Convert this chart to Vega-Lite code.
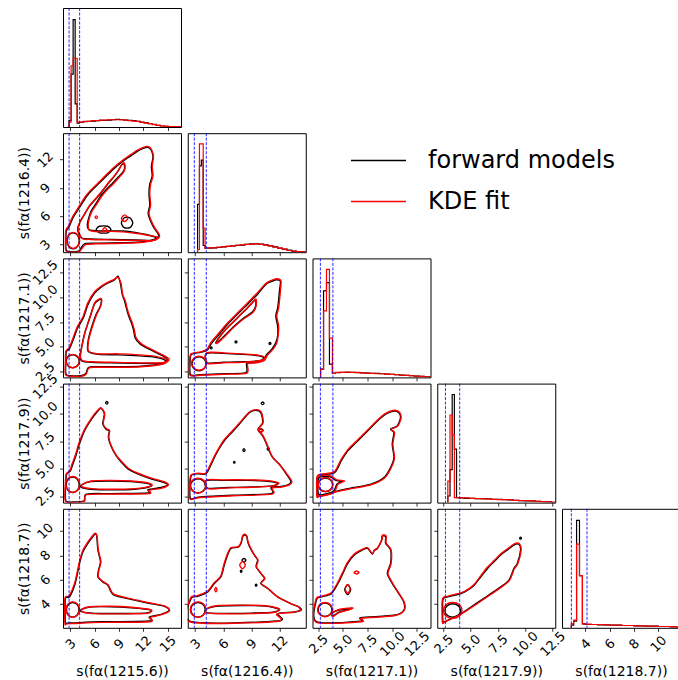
{
"$schema":"https://vega.github.io/schema/vega-lite/v6.json",
"background":"white",
"padding":{"left":16,"top":7,"right":0,"bottom":0},
"columns":5,
"spacing":{"row":6.2,"column":6.75},
"bounds":"flush",
"concat":[
{"width":118,"height":119,"encoding":{"x":{"field":"x","type":"quantitative","scale":{"domain":[2.1,16.65],"nice":false,"zero":false},"axis":{"values":[3,6,9,12,15],"labels":false,"title":null}}},
 "layer":[{"data":{"name":"h1"},"mark":{"type":"line","interpolate":"step-after","strokeWidth":1.2,"clip":true},"encoding":{"y":{"field":"y","type":"quantitative","scale":{"domain":[0,360],"nice":false,"zero":false},"axis":null},"color":{"field":"s","type":"nominal","scale":{"domain":["F","K"],"range":["#000000","#ff0000"]},"legend":{"title":null,"labelExpr":"datum.label == 'F' ? 'forward models' : 'KDE fit'"}},"order":{"value":null}}},
 {"data":{"values":[{"x":2.85},{"x":4.15}]},"mark":{"type":"rule","color":"#0000ff","strokeDash":[3,1.5],"strokeWidth":1,"opacity":0.85},"encoding":{}}]},
{"width":118,"height":119,"data":{"values":[{}]},"mark":{"type":"text","text":""},"view":{"stroke":null}},
{"width":118,"height":119,"data":{"values":[{}]},"mark":{"type":"text","text":""},"view":{"stroke":null}},
{"width":118,"height":119,"data":{"values":[{}]},"mark":{"type":"text","text":""},"view":{"stroke":null}},
{"width":118,"height":119,"data":{"values":[{}]},"mark":{"type":"text","text":""},"view":{"stroke":null}},

{"width":118,"height":119,"encoding":{"x":{"field":"x","type":"quantitative","scale":{"domain":[2.1,16.65],"nice":false,"zero":false},"axis":{"values":[3,6,9,12,15],"labels":false,"title":null}}},
 "layer":[{"data":{"name":"c21"},"mark":{"type":"line","interpolate":"cardinal-closed","tension":0.2,"strokeWidth":1.4,"clip":true},"encoding":{"y":{"field":"y","type":"quantitative","scale":{"domain":[2.2,14.8],"nice":false,"zero":false},"axis":{"values":[3,6,9,12],"title":"s(fα(1216.4))"}},"color":{"field":"s","type":"nominal","scale":{"domain":["F","K"],"range":["#000000","#ff0000"]},"legend":{"title":null,"labelExpr":"datum.label == 'F' ? 'forward models' : 'KDE fit'"}},"detail":{"field":"c"},"order":{"value":null}}},
 {"data":{"values":[{"x":2.85},{"x":4.15}]},"mark":{"type":"rule","color":"#0000ff","strokeDash":[3,1.5],"strokeWidth":1,"opacity":0.85},"encoding":{}}]},
{"width":118,"height":119,"encoding":{"x":{"field":"x","type":"quantitative","scale":{"domain":[2.2,14.8],"nice":false,"zero":false},"axis":{"values":[3,6,9,12],"labels":false,"title":null}}},
 "layer":[{"data":{"name":"h2"},"mark":{"type":"line","interpolate":"step-after","strokeWidth":1.2,"clip":true},"encoding":{"y":{"field":"y","type":"quantitative","scale":{"domain":[0,354],"nice":false,"zero":false},"axis":null},"color":{"field":"s","type":"nominal","scale":{"domain":["F","K"],"range":["#000000","#ff0000"]},"legend":{"title":null,"labelExpr":"datum.label == 'F' ? 'forward models' : 'KDE fit'"}},"order":{"value":null}}},
 {"data":{"values":[{"x":2.9},{"x":4.18}]},"mark":{"type":"rule","color":"#0000ff","strokeDash":[3,1.5],"strokeWidth":1,"opacity":0.85},"encoding":{}}]},
{"width":118,"height":119,"data":{"values":[{}]},"mark":{"type":"text","text":""},"view":{"stroke":null}},
{"width":118,"height":119,"data":{"values":[{}]},"mark":{"type":"text","text":""},"view":{"stroke":null}},
{"width":118,"height":119,"data":{"values":[{}]},"mark":{"type":"text","text":""},"view":{"stroke":null}},

{"width":118,"height":119,"encoding":{"x":{"field":"x","type":"quantitative","scale":{"domain":[2.1,16.65],"nice":false,"zero":false},"axis":{"values":[3,6,9,12,15],"labels":false,"title":null}}},
 "layer":[{"data":{"name":"c31"},"mark":{"type":"line","interpolate":"cardinal-closed","tension":0.2,"strokeWidth":1.4,"clip":true},"encoding":{"y":{"field":"y","type":"quantitative","scale":{"domain":[1.93,13.9],"nice":false,"zero":false},"axis":{"values":[2.5,5,7.5,10,12.5],"format":".1f","title":"s(fα(1217.1))"}},"color":{"field":"s","type":"nominal","scale":{"domain":["F","K"],"range":["#000000","#ff0000"]},"legend":{"title":null,"labelExpr":"datum.label == 'F' ? 'forward models' : 'KDE fit'"}},"detail":{"field":"c"},"order":{"value":null}}},
 {"data":{"values":[{"x":2.85},{"x":4.15}]},"mark":{"type":"rule","color":"#0000ff","strokeDash":[3,1.5],"strokeWidth":1,"opacity":0.85},"encoding":{}}]},
{"width":118,"height":119,"encoding":{"x":{"field":"x","type":"quantitative","scale":{"domain":[2.2,14.8],"nice":false,"zero":false},"axis":{"values":[3,6,9,12],"labels":false,"title":null}}},
 "layer":[{"data":{"name":"c32"},"mark":{"type":"line","interpolate":"cardinal-closed","tension":0.2,"strokeWidth":1.4,"clip":true},"encoding":{"y":{"field":"y","type":"quantitative","scale":{"domain":[1.93,13.9],"nice":false,"zero":false},"axis":{"values":[2.5,5,7.5,10,12.5],"labels":false,"title":null}},"color":{"field":"s","type":"nominal","scale":{"domain":["F","K"],"range":["#000000","#ff0000"]},"legend":{"title":null,"labelExpr":"datum.label == 'F' ? 'forward models' : 'KDE fit'"}},"detail":{"field":"c"},"order":{"value":null}}},
 {"data":{"values":[{"x":2.9},{"x":4.18}]},"mark":{"type":"rule","color":"#0000ff","strokeDash":[3,1.5],"strokeWidth":1,"opacity":0.85},"encoding":{}}]},
{"width":118,"height":119,"encoding":{"x":{"field":"x","type":"quantitative","scale":{"domain":[1.93,13.9],"nice":false,"zero":false},"axis":{"values":[2.5,5,7.5,10,12.5],"labels":false,"title":null}}},
 "layer":[{"data":{"name":"h3"},"mark":{"type":"line","interpolate":"step-after","strokeWidth":1.2,"clip":true},"encoding":{"y":{"field":"y","type":"quantitative","scale":{"domain":[0,358],"nice":false,"zero":false},"axis":null},"color":{"field":"s","type":"nominal","scale":{"domain":["F","K"],"range":["#000000","#ff0000"]},"legend":{"title":null,"labelExpr":"datum.label == 'F' ? 'forward models' : 'KDE fit'"}},"order":{"value":null}}},
 {"data":{"values":[{"x":2.73},{"x":4.0}]},"mark":{"type":"rule","color":"#0000ff","strokeDash":[3,1.5],"strokeWidth":1,"opacity":0.85},"encoding":{}}]},
{"width":118,"height":119,"data":{"values":[{}]},"mark":{"type":"text","text":""},"view":{"stroke":null}},
{"width":118,"height":119,"data":{"values":[{}]},"mark":{"type":"text","text":""},"view":{"stroke":null}},

{"width":118,"height":119,"encoding":{"x":{"field":"x","type":"quantitative","scale":{"domain":[2.1,16.65],"nice":false,"zero":false},"axis":{"values":[3,6,9,12,15],"labels":false,"title":null}}},
 "layer":[{"data":{"name":"c41"},"mark":{"type":"line","interpolate":"cardinal-closed","tension":0.2,"strokeWidth":1.4,"clip":true},"encoding":{"y":{"field":"y","type":"quantitative","scale":{"domain":[1.93,12.75],"nice":false,"zero":false},"axis":{"values":[2.5,5,7.5,10,12.5],"format":".1f","title":"s(fα(1217.9))"}},"color":{"field":"s","type":"nominal","scale":{"domain":["F","K"],"range":["#000000","#ff0000"]},"legend":{"title":null,"labelExpr":"datum.label == 'F' ? 'forward models' : 'KDE fit'"}},"detail":{"field":"c"},"order":{"value":null}}},
 {"data":{"values":[{"x":2.85},{"x":4.15}]},"mark":{"type":"rule","color":"#0000ff","strokeDash":[3,1.5],"strokeWidth":1,"opacity":0.85},"encoding":{}}]},
{"width":118,"height":119,"encoding":{"x":{"field":"x","type":"quantitative","scale":{"domain":[2.2,14.8],"nice":false,"zero":false},"axis":{"values":[3,6,9,12],"labels":false,"title":null}}},
 "layer":[{"data":{"name":"c42"},"mark":{"type":"line","interpolate":"cardinal-closed","tension":0.2,"strokeWidth":1.4,"clip":true},"encoding":{"y":{"field":"y","type":"quantitative","scale":{"domain":[1.93,12.75],"nice":false,"zero":false},"axis":{"values":[2.5,5,7.5,10,12.5],"labels":false,"title":null}},"color":{"field":"s","type":"nominal","scale":{"domain":["F","K"],"range":["#000000","#ff0000"]},"legend":{"title":null,"labelExpr":"datum.label == 'F' ? 'forward models' : 'KDE fit'"}},"detail":{"field":"c"},"order":{"value":null}}},
 {"data":{"values":[{"x":2.9},{"x":4.18}]},"mark":{"type":"rule","color":"#0000ff","strokeDash":[3,1.5],"strokeWidth":1,"opacity":0.85},"encoding":{}}]},
{"width":118,"height":119,"encoding":{"x":{"field":"x","type":"quantitative","scale":{"domain":[1.93,13.9],"nice":false,"zero":false},"axis":{"values":[2.5,5,7.5,10,12.5],"labels":false,"title":null}}},
 "layer":[{"data":{"name":"c43"},"mark":{"type":"line","interpolate":"cardinal-closed","tension":0.2,"strokeWidth":1.4,"clip":true},"encoding":{"y":{"field":"y","type":"quantitative","scale":{"domain":[1.93,12.75],"nice":false,"zero":false},"axis":{"values":[2.5,5,7.5,10,12.5],"labels":false,"title":null}},"color":{"field":"s","type":"nominal","scale":{"domain":["F","K"],"range":["#000000","#ff0000"]},"legend":{"title":null,"labelExpr":"datum.label == 'F' ? 'forward models' : 'KDE fit'"}},"detail":{"field":"c"},"order":{"value":null}}},
 {"data":{"values":[{"x":2.73},{"x":4.0}]},"mark":{"type":"rule","color":"#0000ff","strokeDash":[3,1.5],"strokeWidth":1,"opacity":0.85},"encoding":{}}]},
{"width":118,"height":119,"encoding":{"x":{"field":"x","type":"quantitative","scale":{"domain":[1.93,12.75],"nice":false,"zero":false},"axis":{"values":[2.5,5,7.5,10,12.5],"labels":false,"title":null}}},
 "layer":[{"data":{"name":"h4"},"mark":{"type":"line","interpolate":"step-after","strokeWidth":1.2,"clip":true},"encoding":{"y":{"field":"y","type":"quantitative","scale":{"domain":[0,360],"nice":false,"zero":false},"axis":null},"color":{"field":"s","type":"nominal","scale":{"domain":["F","K"],"range":["#000000","#ff0000"]},"legend":{"title":null,"labelExpr":"datum.label == 'F' ? 'forward models' : 'KDE fit'"}},"order":{"value":null}}},
 {"data":{"values":[{"x":2.68},{"x":3.99}]},"mark":{"type":"rule","color":"#0000ff","strokeDash":[3,1.5],"strokeWidth":1,"opacity":0.85},"encoding":{}}]},
{"width":118,"height":119,"data":{"values":[{}]},"mark":{"type":"text","text":""},"view":{"stroke":null}},

{"width":118,"height":119,"encoding":{"x":{"field":"x","type":"quantitative","scale":{"domain":[2.1,16.65],"nice":false,"zero":false},"axis":{"values":[3,6,9,12,15],"title":"s(fα(1215.6))"}}},
 "layer":[{"data":{"name":"c51"},"mark":{"type":"line","interpolate":"cardinal-closed","tension":0.2,"strokeWidth":1.4,"clip":true},"encoding":{"y":{"field":"y","type":"quantitative","scale":{"domain":[2.08,11.8],"nice":false,"zero":false},"axis":{"values":[4,6,8,10],"title":"s(fα(1218.7))"}},"color":{"field":"s","type":"nominal","scale":{"domain":["F","K"],"range":["#000000","#ff0000"]},"legend":{"title":null,"labelExpr":"datum.label == 'F' ? 'forward models' : 'KDE fit'"}},"detail":{"field":"c"},"order":{"value":null}}},
 {"data":{"values":[{"x":2.85},{"x":4.15}]},"mark":{"type":"rule","color":"#0000ff","strokeDash":[3,1.5],"strokeWidth":1,"opacity":0.85},"encoding":{}}]},
{"width":118,"height":119,"encoding":{"x":{"field":"x","type":"quantitative","scale":{"domain":[2.2,14.8],"nice":false,"zero":false},"axis":{"values":[3,6,9,12],"title":"s(fα(1216.4))"}}},
 "layer":[{"data":{"name":"c52"},"mark":{"type":"line","interpolate":"cardinal-closed","tension":0.2,"strokeWidth":1.4,"clip":true},"encoding":{"y":{"field":"y","type":"quantitative","scale":{"domain":[2.08,11.8],"nice":false,"zero":false},"axis":{"values":[4,6,8,10],"labels":false,"title":null}},"color":{"field":"s","type":"nominal","scale":{"domain":["F","K"],"range":["#000000","#ff0000"]},"legend":{"title":null,"labelExpr":"datum.label == 'F' ? 'forward models' : 'KDE fit'"}},"detail":{"field":"c"},"order":{"value":null}}},
 {"data":{"values":[{"x":2.9},{"x":4.18}]},"mark":{"type":"rule","color":"#0000ff","strokeDash":[3,1.5],"strokeWidth":1,"opacity":0.85},"encoding":{}}]},
{"width":118,"height":119,"encoding":{"x":{"field":"x","type":"quantitative","scale":{"domain":[1.93,13.9],"nice":false,"zero":false},"axis":{"values":[2.5,5,7.5,10,12.5],"format":".1f","title":"s(fα(1217.1))"}}},
 "layer":[{"data":{"name":"c53"},"mark":{"type":"line","interpolate":"cardinal-closed","tension":0.2,"strokeWidth":1.4,"clip":true},"encoding":{"y":{"field":"y","type":"quantitative","scale":{"domain":[2.08,11.8],"nice":false,"zero":false},"axis":{"values":[4,6,8,10],"labels":false,"title":null}},"color":{"field":"s","type":"nominal","scale":{"domain":["F","K"],"range":["#000000","#ff0000"]},"legend":{"title":null,"labelExpr":"datum.label == 'F' ? 'forward models' : 'KDE fit'"}},"detail":{"field":"c"},"order":{"value":null}}},
 {"data":{"values":[{"x":2.73},{"x":4.0}]},"mark":{"type":"rule","color":"#0000ff","strokeDash":[3,1.5],"strokeWidth":1,"opacity":0.85},"encoding":{}}]},
{"width":118,"height":119,"encoding":{"x":{"field":"x","type":"quantitative","scale":{"domain":[1.93,12.75],"nice":false,"zero":false},"axis":{"values":[2.5,5,7.5,10,12.5],"format":".1f","title":"s(fα(1217.9))"}}},
 "layer":[{"data":{"name":"c54"},"mark":{"type":"line","interpolate":"cardinal-closed","tension":0.2,"strokeWidth":1.4,"clip":true},"encoding":{"y":{"field":"y","type":"quantitative","scale":{"domain":[2.08,11.8],"nice":false,"zero":false},"axis":{"values":[4,6,8,10],"labels":false,"title":null}},"color":{"field":"s","type":"nominal","scale":{"domain":["F","K"],"range":["#000000","#ff0000"]},"legend":{"title":null,"labelExpr":"datum.label == 'F' ? 'forward models' : 'KDE fit'"}},"detail":{"field":"c"},"order":{"value":null}}},
 {"data":{"values":[{"x":2.68},{"x":3.99}]},"mark":{"type":"rule","color":"#0000ff","strokeDash":[3,1.5],"strokeWidth":1,"opacity":0.85},"encoding":{}}]},
{"width":118,"height":119,"encoding":{"x":{"field":"x","type":"quantitative","scale":{"domain":[2.08,11.8],"nice":false,"zero":false},"axis":{"values":[4,6,8,10],"title":"s(fα(1218.7))"}}},
 "layer":[{"data":{"name":"h5"},"mark":{"type":"line","interpolate":"step-after","strokeWidth":1.2,"clip":true},"encoding":{"y":{"field":"y","type":"quantitative","scale":{"domain":[0,360],"nice":false,"zero":false},"axis":null},"color":{"field":"s","type":"nominal","scale":{"domain":["F","K"],"range":["#000000","#ff0000"]},"legend":{"title":null,"labelExpr":"datum.label == 'F' ? 'forward models' : 'KDE fit'"}},"order":{"value":null}}},
 {"data":{"values":[{"x":2.85},{"x":4.14}]},"mark":{"type":"rule","color":"#0000ff","strokeDash":[3,1.5],"strokeWidth":1,"opacity":0.85},"encoding":{}}]}
],
"datasets":{
"h1":[{"x":2.85,"y":0,"s":"F"},{"x":2.85,"y":20,"s":"F"},{"x":3.1,"y":160,"s":"F"},{"x":3.35,"y":325,"s":"F"},{"x":3.6,"y":70,"s":"F"},{"x":3.85,"y":12,"s":"F"},{"x":4.1,"y":14,"s":"F"},{"x":4.6,"y":16,"s":"F"},{"x":5.1,"y":17,"s":"F"},{"x":5.6,"y":18,"s":"F"},{"x":6.1,"y":19,"s":"F"},{"x":6.6,"y":20,"s":"F"},{"x":7.1,"y":20,"s":"F"},{"x":7.6,"y":21,"s":"F"},{"x":8.1,"y":22,"s":"F"},{"x":8.6,"y":23,"s":"F"},{"x":9.1,"y":22,"s":"F"},{"x":9.6,"y":21,"s":"F"},{"x":10.1,"y":20,"s":"F"},{"x":10.6,"y":19,"s":"F"},{"x":11.1,"y":17,"s":"F"},{"x":11.6,"y":15,"s":"F"},{"x":12.1,"y":13,"s":"F"},{"x":12.6,"y":10,"s":"F"},{"x":13.1,"y":8,"s":"F"},{"x":13.6,"y":5,"s":"F"},{"x":14.1,"y":3,"s":"F"},{"x":14.6,"y":2,"s":"F"},{"x":15.1,"y":1,"s":"F"},{"x":15.6,"y":1,"s":"F"},{"x":16.1,"y":0.5,"s":"F"},{"x":16.65,"y":0,"s":"F"},
{"x":2.85,"y":0,"s":"K"},{"x":2.85,"y":15,"s":"K"},{"x":3.1,"y":185,"s":"K"},{"x":3.35,"y":208,"s":"K"},{"x":3.6,"y":208,"s":"K"},{"x":3.85,"y":15,"s":"K"},{"x":4.1,"y":15,"s":"K"},{"x":4.6,"y":17,"s":"K"},{"x":5.1,"y":17,"s":"K"},{"x":5.6,"y":19,"s":"K"},{"x":6.1,"y":19,"s":"K"},{"x":6.6,"y":21,"s":"K"},{"x":7.1,"y":21,"s":"K"},{"x":7.6,"y":22,"s":"K"},{"x":8.1,"y":22,"s":"K"},{"x":8.6,"y":22,"s":"K"},{"x":9.1,"y":22,"s":"K"},{"x":9.6,"y":21,"s":"K"},{"x":10.1,"y":19,"s":"K"},{"x":10.6,"y":18,"s":"K"},{"x":11.1,"y":17,"s":"K"},{"x":11.6,"y":14,"s":"K"},{"x":12.1,"y":12,"s":"K"},{"x":12.6,"y":10,"s":"K"},{"x":13.1,"y":7,"s":"K"},{"x":13.6,"y":5,"s":"K"},{"x":14.1,"y":3,"s":"K"},{"x":14.6,"y":2,"s":"K"},{"x":15.1,"y":1.5,"s":"K"},{"x":15.6,"y":1,"s":"K"},{"x":16.1,"y":0.5,"s":"K"},{"x":16.65,"y":0,"s":"K"}],
"h2":[{"x":3.25,"y":0,"s":"F"},{"x":3.25,"y":142,"s":"F"},{"x":3.45,"y":257,"s":"F"},{"x":3.65,"y":274,"s":"F"},{"x":3.85,"y":20,"s":"F"},{"x":4.05,"y":12,"s":"F"},{"x":4.3,"y":12,"s":"F"},{"x":4.8,"y":13,"s":"F"},{"x":5.3,"y":14,"s":"F"},{"x":5.8,"y":16,"s":"F"},{"x":6.3,"y":17,"s":"F"},{"x":6.8,"y":19,"s":"F"},{"x":7.3,"y":20,"s":"F"},{"x":7.8,"y":21,"s":"F"},{"x":8.3,"y":23,"s":"F"},{"x":8.8,"y":25,"s":"F"},{"x":9.3,"y":25,"s":"F"},{"x":9.8,"y":24,"s":"F"},{"x":10.3,"y":22,"s":"F"},{"x":10.8,"y":19,"s":"F"},{"x":11.3,"y":16,"s":"F"},{"x":11.8,"y":12,"s":"F"},{"x":12.3,"y":9,"s":"F"},{"x":12.8,"y":6,"s":"F"},{"x":13.3,"y":3,"s":"F"},{"x":13.8,"y":2,"s":"F"},{"x":14.3,"y":1,"s":"F"},{"x":14.8,"y":0,"s":"F"},
{"x":3.25,"y":0,"s":"K"},{"x":3.25,"y":8,"s":"K"},{"x":3.45,"y":322,"s":"K"},{"x":3.65,"y":322,"s":"K"},{"x":3.85,"y":72,"s":"K"},{"x":4.05,"y":12,"s":"K"},{"x":4.3,"y":13,"s":"K"},{"x":4.8,"y":13,"s":"K"},{"x":5.3,"y":15,"s":"K"},{"x":5.8,"y":16,"s":"K"},{"x":6.3,"y":18,"s":"K"},{"x":6.8,"y":19,"s":"K"},{"x":7.3,"y":21,"s":"K"},{"x":7.8,"y":22,"s":"K"},{"x":8.3,"y":23,"s":"K"},{"x":8.8,"y":24,"s":"K"},{"x":9.3,"y":25,"s":"K"},{"x":9.8,"y":23,"s":"K"},{"x":10.3,"y":21,"s":"K"},{"x":10.8,"y":19,"s":"K"},{"x":11.3,"y":15,"s":"K"},{"x":11.8,"y":12,"s":"K"},{"x":12.3,"y":9,"s":"K"},{"x":12.8,"y":5,"s":"K"},{"x":13.3,"y":3,"s":"K"},{"x":13.8,"y":2,"s":"K"},{"x":14.3,"y":1,"s":"K"},{"x":14.8,"y":0,"s":"K"}],
"h3":[{"x":2.75,"y":0,"s":"F"},{"x":2.75,"y":25,"s":"F"},{"x":3.05,"y":260,"s":"F"},{"x":3.35,"y":285,"s":"F"},{"x":3.65,"y":40,"s":"F"},{"x":3.95,"y":12,"s":"F"},{"x":4.25,"y":14,"s":"F"},{"x":4.75,"y":15,"s":"F"},{"x":5.25,"y":15,"s":"F"},{"x":5.75,"y":15,"s":"F"},{"x":6.25,"y":14,"s":"F"},{"x":6.75,"y":14,"s":"F"},{"x":7.25,"y":13,"s":"F"},{"x":7.75,"y":12,"s":"F"},{"x":8.25,"y":12,"s":"F"},{"x":8.75,"y":11,"s":"F"},{"x":9.25,"y":10,"s":"F"},{"x":9.75,"y":9,"s":"F"},{"x":10.25,"y":8,"s":"F"},{"x":10.75,"y":7,"s":"F"},{"x":11.25,"y":6,"s":"F"},{"x":11.75,"y":5,"s":"F"},{"x":12.25,"y":4,"s":"F"},{"x":12.75,"y":3,"s":"F"},{"x":13.25,"y":2,"s":"F"},{"x":13.9,"y":0,"s":"F"},
{"x":2.75,"y":0,"s":"K"},{"x":2.75,"y":25,"s":"K"},{"x":3.05,"y":200,"s":"K"},{"x":3.35,"y":325,"s":"K"},{"x":3.65,"y":118,"s":"K"},{"x":3.95,"y":12,"s":"K"},{"x":4.25,"y":15,"s":"K"},{"x":4.75,"y":15,"s":"K"},{"x":5.25,"y":16,"s":"K"},{"x":5.75,"y":15,"s":"K"},{"x":6.25,"y":15,"s":"K"},{"x":6.75,"y":13,"s":"K"},{"x":7.25,"y":13,"s":"K"},{"x":7.75,"y":12,"s":"K"},{"x":8.25,"y":11,"s":"K"},{"x":8.75,"y":11,"s":"K"},{"x":9.25,"y":10,"s":"K"},{"x":9.75,"y":9,"s":"K"},{"x":10.25,"y":8,"s":"K"},{"x":10.75,"y":7,"s":"K"},{"x":11.25,"y":6,"s":"K"},{"x":11.75,"y":5,"s":"K"},{"x":12.25,"y":4,"s":"K"},{"x":12.75,"y":3,"s":"K"},{"x":13.25,"y":2,"s":"K"},{"x":13.9,"y":0,"s":"K"}],
"h4":[{"x":2.9,"y":0,"s":"F"},{"x":2.9,"y":20,"s":"F"},{"x":3.1,"y":100,"s":"F"},{"x":3.3,"y":327,"s":"F"},{"x":3.5,"y":162,"s":"F"},{"x":3.7,"y":15,"s":"F"},{"x":3.9,"y":14,"s":"F"},{"x":4.4,"y":13,"s":"F"},{"x":4.9,"y":13,"s":"F"},{"x":5.4,"y":12,"s":"F"},{"x":5.9,"y":12,"s":"F"},{"x":6.4,"y":11,"s":"F"},{"x":6.9,"y":10,"s":"F"},{"x":7.4,"y":10,"s":"F"},{"x":7.9,"y":9,"s":"F"},{"x":8.4,"y":8,"s":"F"},{"x":8.9,"y":7,"s":"F"},{"x":9.4,"y":6,"s":"F"},{"x":9.9,"y":5,"s":"F"},{"x":10.4,"y":5,"s":"F"},{"x":10.9,"y":4,"s":"F"},{"x":11.4,"y":3,"s":"F"},{"x":11.9,"y":2,"s":"F"},{"x":12.4,"y":1,"s":"F"},{"x":12.75,"y":0,"s":"F"},
{"x":2.9,"y":0,"s":"K"},{"x":2.9,"y":65,"s":"K"},{"x":3.1,"y":265,"s":"K"},{"x":3.3,"y":205,"s":"K"},{"x":3.5,"y":15,"s":"K"},{"x":3.7,"y":15,"s":"K"},{"x":3.9,"y":14,"s":"K"},{"x":4.4,"y":14,"s":"K"},{"x":4.9,"y":13,"s":"K"},{"x":5.4,"y":12,"s":"K"},{"x":5.9,"y":11,"s":"K"},{"x":6.4,"y":11,"s":"K"},{"x":6.9,"y":10,"s":"K"},{"x":7.4,"y":9,"s":"K"},{"x":7.9,"y":9,"s":"K"},{"x":8.4,"y":8,"s":"K"},{"x":8.9,"y":7,"s":"K"},{"x":9.4,"y":6,"s":"K"},{"x":9.9,"y":6,"s":"K"},{"x":10.4,"y":5,"s":"K"},{"x":10.9,"y":4,"s":"K"},{"x":11.4,"y":3,"s":"K"},{"x":11.9,"y":2,"s":"K"},{"x":12.4,"y":1,"s":"K"},{"x":12.75,"y":0,"s":"K"}],
"h5":[{"x":2.85,"y":0,"s":"F"},{"x":2.85,"y":8,"s":"F"},{"x":3.04,"y":20,"s":"F"},{"x":3.28,"y":325,"s":"F"},{"x":3.52,"y":158,"s":"F"},{"x":3.76,"y":12,"s":"F"},{"x":4.0,"y":10,"s":"F"},{"x":4.5,"y":10,"s":"F"},{"x":5.0,"y":9,"s":"F"},{"x":5.5,"y":9,"s":"F"},{"x":6.0,"y":8,"s":"F"},{"x":6.5,"y":8,"s":"F"},{"x":7.0,"y":7,"s":"F"},{"x":7.5,"y":7,"s":"F"},{"x":8.0,"y":6,"s":"F"},{"x":8.5,"y":6,"s":"F"},{"x":9.0,"y":5,"s":"F"},{"x":9.5,"y":5,"s":"F"},{"x":10.0,"y":4,"s":"F"},{"x":10.5,"y":4,"s":"F"},{"x":11.0,"y":3,"s":"F"},{"x":11.5,"y":2,"s":"F"},{"x":11.8,"y":0,"s":"F"},
{"x":2.85,"y":0,"s":"K"},{"x":2.85,"y":12,"s":"K"},{"x":3.04,"y":23,"s":"K"},{"x":3.28,"y":253,"s":"K"},{"x":3.52,"y":158,"s":"K"},{"x":3.76,"y":12,"s":"K"},{"x":4.0,"y":11,"s":"K"},{"x":4.5,"y":10,"s":"K"},{"x":5.0,"y":10,"s":"K"},{"x":5.5,"y":9,"s":"K"},{"x":6.0,"y":8,"s":"K"},{"x":6.5,"y":8,"s":"K"},{"x":7.0,"y":7,"s":"K"},{"x":7.5,"y":7,"s":"K"},{"x":8.0,"y":6,"s":"K"},{"x":8.5,"y":6,"s":"K"},{"x":9.0,"y":5,"s":"K"},{"x":9.5,"y":5,"s":"K"},{"x":10.0,"y":4,"s":"K"},{"x":10.5,"y":4,"s":"K"},{"x":11.0,"y":3,"s":"K"},{"x":11.5,"y":2,"s":"K"},{"x":11.8,"y":0,"s":"K"}],
"c21":[
{"x":2.5,"y":2.4,"s":"F","c":"o"},{"x":2.45,"y":3.3,"s":"F","c":"o"},{"x":2.5,"y":4.4,"s":"F","c":"o"},{"x":2.85,"y":4.9,"s":"F","c":"o"},{"x":3.3,"y":5.8,"s":"F","c":"o"},{"x":3.8,"y":6.5,"s":"F","c":"o"},{"x":4.35,"y":7.24,"s":"F","c":"o"},{"x":5.0,"y":8.1,"s":"F","c":"o"},{"x":5.6,"y":8.7,"s":"F","c":"o"},{"x":6.8,"y":9.7,"s":"F","c":"o"},{"x":7.6,"y":10.4,"s":"F","c":"o"},{"x":8.45,"y":11.1,"s":"F","c":"o"},{"x":9.3,"y":11.7,"s":"F","c":"o"},{"x":10.1,"y":12.2,"s":"F","c":"o"},{"x":10.8,"y":12.6,"s":"F","c":"o"},{"x":11.3,"y":12.9,"s":"F","c":"o"},{"x":12.0,"y":13.2,"s":"F","c":"o"},{"x":12.55,"y":13.3,"s":"F","c":"o"},{"x":12.95,"y":13.05,"s":"F","c":"o"},{"x":13.2,"y":12.3,"s":"F","c":"o"},{"x":13.0,"y":11.3,"s":"F","c":"o"},{"x":13.1,"y":10.3,"s":"F","c":"o"},{"x":12.8,"y":9.4,"s":"F","c":"o"},{"x":12.7,"y":8.4,"s":"F","c":"o"},{"x":12.8,"y":7.2,"s":"F","c":"o"},{"x":12.6,"y":6.3,"s":"F","c":"o"},{"x":12.9,"y":5.5,"s":"F","c":"o"},{"x":13.3,"y":4.8,"s":"F","c":"o"},{"x":13.9,"y":4.0,"s":"F","c":"o"},{"x":13.5,"y":3.6,"s":"F","c":"o"},{"x":12.0,"y":3.3,"s":"F","c":"o"},{"x":9.5,"y":3.2,"s":"F","c":"o"},{"x":6.5,"y":3.15,"s":"F","c":"o"},{"x":4.8,"y":3.1,"s":"F","c":"o"},{"x":4.3,"y":2.6,"s":"F","c":"o"},{"x":4.0,"y":2.3,"s":"F","c":"o"},{"x":3.0,"y":2.25,"s":"F","c":"o"},
{"x":3.9,"y":4.6,"s":"F","c":"i"},{"x":4.2,"y":5.4,"s":"F","c":"i"},{"x":4.75,"y":6.2,"s":"F","c":"i"},{"x":5.3,"y":7.0,"s":"F","c":"i"},{"x":6.0,"y":7.7,"s":"F","c":"i"},{"x":6.8,"y":8.5,"s":"F","c":"i"},{"x":7.6,"y":9.4,"s":"F","c":"i"},{"x":8.3,"y":10.1,"s":"F","c":"i"},{"x":8.9,"y":10.8,"s":"F","c":"i"},{"x":9.3,"y":11.4,"s":"F","c":"i"},{"x":9.6,"y":11.6,"s":"F","c":"i"},{"x":9.7,"y":11.1,"s":"F","c":"i"},{"x":9.5,"y":10.7,"s":"F","c":"i"},{"x":8.85,"y":10.1,"s":"F","c":"i"},{"x":8.2,"y":9.5,"s":"F","c":"i"},{"x":7.5,"y":8.9,"s":"F","c":"i"},{"x":6.8,"y":8.2,"s":"F","c":"i"},{"x":6.2,"y":7.4,"s":"F","c":"i"},{"x":5.6,"y":6.6,"s":"F","c":"i"},{"x":5.3,"y":5.9,"s":"F","c":"i"},{"x":5.1,"y":5.1,"s":"F","c":"i"},{"x":5.3,"y":4.6,"s":"F","c":"i"},{"x":6.5,"y":4.45,"s":"F","c":"i"},{"x":8.0,"y":4.45,"s":"F","c":"i"},{"x":9.5,"y":4.45,"s":"F","c":"i"},{"x":11.0,"y":4.3,"s":"F","c":"i"},{"x":12.5,"y":4.05,"s":"F","c":"i"},{"x":13.6,"y":3.75,"s":"F","c":"i"},{"x":13.2,"y":3.45,"s":"F","c":"i"},{"x":11.0,"y":3.5,"s":"F","c":"i"},{"x":8.0,"y":3.55,"s":"F","c":"i"},{"x":5.5,"y":3.6,"s":"F","c":"i"},{"x":4.4,"y":3.7,"s":"F","c":"i"},
{"x":4.1,"y":3.4,"s":"F","c":"c"},{"x":3.88,"y":4.0,"s":"F","c":"c"},{"x":3.35,"y":4.25,"s":"F","c":"c"},{"x":2.82,"y":4.0,"s":"F","c":"c"},{"x":2.6,"y":3.4,"s":"F","c":"c"},{"x":2.82,"y":2.8,"s":"F","c":"c"},{"x":3.35,"y":2.55,"s":"F","c":"c"},{"x":3.88,"y":2.8,"s":"F","c":"c"},
{"x":8.0,"y":4.6,"s":"F","c":"a"},{"x":7.6,"y":4.95,"s":"F","c":"a"},{"x":6.6,"y":4.95,"s":"F","c":"a"},{"x":6.2,"y":4.6,"s":"F","c":"a"},{"x":6.6,"y":4.25,"s":"F","c":"a"},{"x":7.6,"y":4.25,"s":"F","c":"a"},
{"x":10.7,"y":5.3,"s":"F","c":"b"},{"x":10.35,"y":5.85,"s":"F","c":"b"},{"x":9.65,"y":5.85,"s":"F","c":"b"},{"x":9.3,"y":5.3,"s":"F","c":"b"},{"x":9.65,"y":4.8,"s":"F","c":"b"},{"x":10.35,"y":4.8,"s":"F","c":"b"},
{"x":2.45,"y":2.35,"s":"K","c":"o"},{"x":2.4,"y":3.3,"s":"K","c":"o"},{"x":2.45,"y":4.5,"s":"K","c":"o"},{"x":2.8,"y":5.0,"s":"K","c":"o"},{"x":3.25,"y":5.9,"s":"K","c":"o"},{"x":3.75,"y":6.6,"s":"K","c":"o"},{"x":4.3,"y":7.35,"s":"K","c":"o"},{"x":4.95,"y":8.2,"s":"K","c":"o"},{"x":5.55,"y":8.8,"s":"K","c":"o"},{"x":6.75,"y":9.8,"s":"K","c":"o"},{"x":7.55,"y":10.5,"s":"K","c":"o"},{"x":8.4,"y":11.2,"s":"K","c":"o"},{"x":9.25,"y":11.8,"s":"K","c":"o"},{"x":10.05,"y":12.3,"s":"K","c":"o"},{"x":10.75,"y":12.7,"s":"K","c":"o"},{"x":11.3,"y":13.0,"s":"K","c":"o"},{"x":12.0,"y":13.3,"s":"K","c":"o"},{"x":12.55,"y":13.4,"s":"K","c":"o"},{"x":13.0,"y":13.1,"s":"K","c":"o"},{"x":13.25,"y":12.3,"s":"K","c":"o"},{"x":13.1,"y":11.3,"s":"K","c":"o"},{"x":13.2,"y":10.3,"s":"K","c":"o"},{"x":12.9,"y":9.4,"s":"K","c":"o"},{"x":12.8,"y":8.4,"s":"K","c":"o"},{"x":12.9,"y":7.2,"s":"K","c":"o"},{"x":12.7,"y":6.3,"s":"K","c":"o"},{"x":13.0,"y":5.5,"s":"K","c":"o"},{"x":13.4,"y":4.8,"s":"K","c":"o"},{"x":14.0,"y":4.0,"s":"K","c":"o"},{"x":13.6,"y":3.55,"s":"K","c":"o"},{"x":12.0,"y":3.25,"s":"K","c":"o"},{"x":9.5,"y":3.15,"s":"K","c":"o"},{"x":6.5,"y":3.1,"s":"K","c":"o"},{"x":4.9,"y":3.0,"s":"K","c":"o"},{"x":4.4,"y":2.55,"s":"K","c":"o"},{"x":4.1,"y":2.25,"s":"K","c":"o"},{"x":3.0,"y":2.2,"s":"K","c":"o"},
{"x":3.95,"y":4.65,"s":"K","c":"i"},{"x":4.25,"y":5.5,"s":"K","c":"i"},{"x":4.8,"y":6.3,"s":"K","c":"i"},{"x":5.35,"y":7.1,"s":"K","c":"i"},{"x":6.05,"y":7.8,"s":"K","c":"i"},{"x":6.85,"y":8.6,"s":"K","c":"i"},{"x":7.65,"y":9.5,"s":"K","c":"i"},{"x":8.35,"y":10.2,"s":"K","c":"i"},{"x":8.95,"y":10.9,"s":"K","c":"i"},{"x":9.35,"y":11.5,"s":"K","c":"i"},{"x":9.65,"y":11.65,"s":"K","c":"i"},{"x":9.75,"y":11.1,"s":"K","c":"i"},{"x":9.55,"y":10.65,"s":"K","c":"i"},{"x":8.9,"y":10.0,"s":"K","c":"i"},{"x":8.25,"y":9.4,"s":"K","c":"i"},{"x":7.55,"y":8.8,"s":"K","c":"i"},{"x":6.85,"y":8.1,"s":"K","c":"i"},{"x":6.25,"y":7.3,"s":"K","c":"i"},{"x":5.65,"y":6.5,"s":"K","c":"i"},{"x":5.35,"y":5.8,"s":"K","c":"i"},{"x":5.2,"y":5.0,"s":"K","c":"i"},{"x":5.4,"y":4.5,"s":"K","c":"i"},{"x":6.5,"y":4.35,"s":"K","c":"i"},{"x":8.0,"y":4.4,"s":"K","c":"i"},{"x":9.5,"y":4.35,"s":"K","c":"i"},{"x":11.0,"y":4.2,"s":"K","c":"i"},{"x":12.5,"y":4.0,"s":"K","c":"i"},{"x":13.7,"y":3.8,"s":"K","c":"i"},{"x":13.3,"y":3.45,"s":"K","c":"i"},{"x":11.0,"y":3.45,"s":"K","c":"i"},{"x":8.0,"y":3.5,"s":"K","c":"i"},{"x":5.5,"y":3.55,"s":"K","c":"i"},{"x":4.45,"y":3.65,"s":"K","c":"i"},
{"x":4.15,"y":3.45,"s":"K","c":"c"},{"x":3.9,"y":4.05,"s":"K","c":"c"},{"x":3.35,"y":4.3,"s":"K","c":"c"},{"x":2.8,"y":4.05,"s":"K","c":"c"},{"x":2.55,"y":3.45,"s":"K","c":"c"},{"x":2.8,"y":2.85,"s":"K","c":"c"},{"x":3.35,"y":2.6,"s":"K","c":"c"},{"x":3.9,"y":2.85,"s":"K","c":"c"},
{"x":7.5,"y":4.6,"s":"K","c":"a"},{"x":7.25,"y":4.8,"s":"K","c":"a"},{"x":7.0,"y":4.6,"s":"K","c":"a"},{"x":7.25,"y":4.4,"s":"K","c":"a"},
{"x":10.1,"y":5.8,"s":"K","c":"b"},{"x":9.7,"y":6.15,"s":"K","c":"b"},{"x":9.3,"y":5.8,"s":"K","c":"b"},{"x":9.7,"y":5.45,"s":"K","c":"b"},
{"x":6.35,"y":5.9,"s":"K","c":"d"},{"x":6.2,"y":6.05,"s":"K","c":"d"},{"x":6.05,"y":5.9,"s":"K","c":"d"},{"x":6.2,"y":5.75,"s":"K","c":"d"}],
"c31":[
{"x":2.45,"y":2.3,"s":"F","c":"o"},{"x":2.45,"y":3.6,"s":"F","c":"o"},{"x":2.5,"y":4.5,"s":"F","c":"o"},{"x":2.9,"y":4.8,"s":"F","c":"o"},{"x":3.3,"y":5.6,"s":"F","c":"o"},{"x":3.9,"y":6.9,"s":"F","c":"o"},{"x":4.6,"y":7.9,"s":"F","c":"o"},{"x":5.2,"y":9.3,"s":"F","c":"o"},{"x":6.0,"y":10.4,"s":"F","c":"o"},{"x":6.8,"y":11.0,"s":"F","c":"o"},{"x":7.6,"y":11.4,"s":"F","c":"o"},{"x":8.4,"y":11.7,"s":"F","c":"o"},{"x":8.9,"y":12.1,"s":"F","c":"o"},{"x":9.2,"y":11.3,"s":"F","c":"o"},{"x":9.4,"y":10.3,"s":"F","c":"o"},{"x":9.7,"y":9.6,"s":"F","c":"o"},{"x":9.9,"y":8.95,"s":"F","c":"o"},{"x":10.2,"y":8.1,"s":"F","c":"o"},{"x":10.5,"y":7.5,"s":"F","c":"o"},{"x":10.8,"y":6.7,"s":"F","c":"o"},{"x":11.0,"y":5.9,"s":"F","c":"o"},{"x":11.6,"y":5.3,"s":"F","c":"o"},{"x":12.4,"y":4.9,"s":"F","c":"o"},{"x":13.4,"y":4.5,"s":"F","c":"o"},{"x":14.4,"y":4.1,"s":"F","c":"o"},{"x":15.0,"y":3.7,"s":"F","c":"o"},{"x":14.4,"y":3.3,"s":"F","c":"o"},{"x":12.5,"y":3.1,"s":"F","c":"o"},{"x":10.0,"y":3.0,"s":"F","c":"o"},{"x":6.0,"y":3.0,"s":"F","c":"o"},{"x":5.2,"y":2.9,"s":"F","c":"o"},{"x":4.9,"y":2.3,"s":"F","c":"o"},{"x":4.3,"y":2.1,"s":"F","c":"o"},{"x":3.0,"y":2.1,"s":"F","c":"o"},
{"x":4.2,"y":4.0,"s":"F","c":"i"},{"x":4.35,"y":4.8,"s":"F","c":"i"},{"x":4.75,"y":6.3,"s":"F","c":"i"},{"x":5.4,"y":7.96,"s":"F","c":"i"},{"x":5.97,"y":9.3,"s":"F","c":"i"},{"x":6.4,"y":9.65,"s":"F","c":"i"},{"x":6.8,"y":9.8,"s":"F","c":"i"},{"x":6.7,"y":9.1,"s":"F","c":"i"},{"x":6.2,"y":8.3,"s":"F","c":"i"},{"x":5.6,"y":6.9,"s":"F","c":"i"},{"x":5.2,"y":5.6,"s":"F","c":"i"},{"x":5.2,"y":4.55,"s":"F","c":"i"},{"x":6.5,"y":4.25,"s":"F","c":"i"},{"x":9.0,"y":4.2,"s":"F","c":"i"},{"x":11.5,"y":4.1,"s":"F","c":"i"},{"x":13.5,"y":3.95,"s":"F","c":"i"},{"x":14.8,"y":3.6,"s":"F","c":"i"},{"x":14.2,"y":3.35,"s":"F","c":"i"},{"x":11.0,"y":3.35,"s":"F","c":"i"},{"x":8.0,"y":3.4,"s":"F","c":"i"},{"x":5.5,"y":3.45,"s":"F","c":"i"},{"x":4.4,"y":3.6,"s":"F","c":"i"},
{"x":4.1,"y":3.55,"s":"F","c":"c"},{"x":3.87,"y":4.01,"s":"F","c":"c"},{"x":3.3,"y":4.2,"s":"F","c":"c"},{"x":2.73,"y":4.01,"s":"F","c":"c"},{"x":2.5,"y":3.55,"s":"F","c":"c"},{"x":2.73,"y":3.09,"s":"F","c":"c"},{"x":3.3,"y":2.9,"s":"F","c":"c"},{"x":3.87,"y":3.09,"s":"F","c":"c"},
{"x":2.4,"y":2.25,"s":"K","c":"o"},{"x":2.4,"y":3.6,"s":"K","c":"o"},{"x":2.45,"y":4.55,"s":"K","c":"o"},{"x":2.85,"y":4.9,"s":"K","c":"o"},{"x":3.25,"y":5.7,"s":"K","c":"o"},{"x":3.85,"y":7.0,"s":"K","c":"o"},{"x":4.55,"y":8.0,"s":"K","c":"o"},{"x":5.15,"y":9.4,"s":"K","c":"o"},{"x":5.95,"y":10.5,"s":"K","c":"o"},{"x":6.8,"y":11.1,"s":"K","c":"o"},{"x":7.6,"y":11.5,"s":"K","c":"o"},{"x":8.4,"y":11.8,"s":"K","c":"o"},{"x":8.85,"y":12.0,"s":"K","c":"o"},{"x":9.25,"y":11.4,"s":"K","c":"o"},{"x":9.45,"y":10.3,"s":"K","c":"o"},{"x":9.8,"y":9.6,"s":"K","c":"o"},{"x":10.0,"y":8.9,"s":"K","c":"o"},{"x":10.3,"y":8.1,"s":"K","c":"o"},{"x":10.6,"y":7.5,"s":"K","c":"o"},{"x":10.9,"y":6.7,"s":"K","c":"o"},{"x":11.1,"y":5.95,"s":"K","c":"o"},{"x":11.7,"y":5.35,"s":"K","c":"o"},{"x":12.5,"y":4.95,"s":"K","c":"o"},{"x":13.5,"y":4.55,"s":"K","c":"o"},{"x":14.5,"y":4.15,"s":"K","c":"o"},{"x":15.2,"y":3.75,"s":"K","c":"o"},{"x":14.5,"y":3.3,"s":"K","c":"o"},{"x":12.5,"y":3.05,"s":"K","c":"o"},{"x":10.0,"y":2.95,"s":"K","c":"o"},{"x":6.0,"y":2.95,"s":"K","c":"o"},{"x":5.25,"y":2.85,"s":"K","c":"o"},{"x":4.95,"y":2.25,"s":"K","c":"o"},{"x":4.35,"y":2.05,"s":"K","c":"o"},{"x":3.0,"y":2.05,"s":"K","c":"o"},
{"x":4.25,"y":4.05,"s":"K","c":"i"},{"x":4.4,"y":4.9,"s":"K","c":"i"},{"x":4.8,"y":6.4,"s":"K","c":"i"},{"x":5.45,"y":8.0,"s":"K","c":"i"},{"x":6.0,"y":9.4,"s":"K","c":"i"},{"x":6.45,"y":9.75,"s":"K","c":"i"},{"x":6.85,"y":9.85,"s":"K","c":"i"},{"x":6.75,"y":9.1,"s":"K","c":"i"},{"x":6.25,"y":8.25,"s":"K","c":"i"},{"x":5.65,"y":6.85,"s":"K","c":"i"},{"x":5.25,"y":5.6,"s":"K","c":"i"},{"x":5.25,"y":4.6,"s":"K","c":"i"},{"x":6.5,"y":4.3,"s":"K","c":"i"},{"x":9.0,"y":4.3,"s":"K","c":"i"},{"x":11.5,"y":4.2,"s":"K","c":"i"},{"x":13.5,"y":4.05,"s":"K","c":"i"},{"x":14.9,"y":3.7,"s":"K","c":"i"},{"x":14.3,"y":3.4,"s":"K","c":"i"},{"x":11.0,"y":3.4,"s":"K","c":"i"},{"x":8.0,"y":3.45,"s":"K","c":"i"},{"x":5.5,"y":3.5,"s":"K","c":"i"},{"x":4.45,"y":3.65,"s":"K","c":"i"},
{"x":4.15,"y":3.6,"s":"K","c":"c"},{"x":3.9,"y":4.05,"s":"K","c":"c"},{"x":3.3,"y":4.25,"s":"K","c":"c"},{"x":2.7,"y":4.05,"s":"K","c":"c"},{"x":2.45,"y":3.6,"s":"K","c":"c"},{"x":2.7,"y":3.1,"s":"K","c":"c"},{"x":3.3,"y":2.9,"s":"K","c":"c"},{"x":3.9,"y":3.1,"s":"K","c":"c"}],
"c32":[
{"x":2.5,"y":2.2,"s":"F","c":"o"},{"x":2.45,"y":3.5,"s":"F","c":"o"},{"x":2.6,"y":4.25,"s":"F","c":"o"},{"x":3.6,"y":4.45,"s":"F","c":"o"},{"x":4.3,"y":4.7,"s":"F","c":"o"},{"x":4.7,"y":5.3,"s":"F","c":"o"},{"x":5.4,"y":6.1,"s":"F","c":"o"},{"x":6.46,"y":7.27,"s":"F","c":"o"},{"x":7.53,"y":8.3,"s":"F","c":"o"},{"x":8.6,"y":9.3,"s":"F","c":"o"},{"x":9.66,"y":10.3,"s":"F","c":"o"},{"x":10.56,"y":11.3,"s":"F","c":"o"},{"x":11.2,"y":11.6,"s":"F","c":"o"},{"x":11.7,"y":11.75,"s":"F","c":"o"},{"x":12.1,"y":11.6,"s":"F","c":"o"},{"x":12.0,"y":10.7,"s":"F","c":"o"},{"x":11.9,"y":9.7,"s":"F","c":"o"},{"x":11.8,"y":8.9,"s":"F","c":"o"},{"x":11.6,"y":8.1,"s":"F","c":"o"},{"x":11.8,"y":7.1,"s":"F","c":"o"},{"x":11.8,"y":6.1,"s":"F","c":"o"},{"x":11.6,"y":5.4,"s":"F","c":"o"},{"x":11.2,"y":4.8,"s":"F","c":"o"},{"x":10.6,"y":4.2,"s":"F","c":"o"},{"x":10.3,"y":3.7,"s":"F","c":"o"},{"x":9.5,"y":3.45,"s":"F","c":"o"},{"x":8.5,"y":3.35,"s":"F","c":"o"},{"x":8.4,"y":2.4,"s":"F","c":"o"},{"x":6.0,"y":2.3,"s":"F","c":"o"},{"x":3.5,"y":2.2,"s":"F","c":"o"},
{"x":5.2,"y":5.4,"s":"F","c":"d"},{"x":5.5,"y":5.9,"s":"F","c":"d"},{"x":6.1,"y":6.6,"s":"F","c":"d"},{"x":7.17,"y":7.6,"s":"F","c":"d"},{"x":8.24,"y":8.6,"s":"F","c":"d"},{"x":9.1,"y":9.45,"s":"F","c":"d"},{"x":9.45,"y":9.75,"s":"F","c":"d"},{"x":9.45,"y":9.1,"s":"F","c":"d"},{"x":9.1,"y":8.5,"s":"F","c":"d"},{"x":8.24,"y":7.95,"s":"F","c":"d"},{"x":7.17,"y":7.1,"s":"F","c":"d"},{"x":6.1,"y":6.1,"s":"F","c":"d"},{"x":5.5,"y":5.55,"s":"F","c":"d"},
{"x":4.2,"y":4.35,"s":"F","c":"b"},{"x":6.0,"y":4.35,"s":"F","c":"b"},{"x":8.0,"y":4.25,"s":"F","c":"b"},{"x":9.8,"y":4.1,"s":"F","c":"b"},{"x":10.3,"y":3.85,"s":"F","c":"b"},{"x":9.8,"y":3.6,"s":"F","c":"b"},{"x":8.0,"y":3.5,"s":"F","c":"b"},{"x":6.0,"y":3.45,"s":"F","c":"b"},{"x":4.3,"y":3.4,"s":"F","c":"b"},
{"x":4.15,"y":3.3,"s":"F","c":"c"},{"x":3.93,"y":3.8,"s":"F","c":"c"},{"x":3.4,"y":4.0,"s":"F","c":"c"},{"x":2.87,"y":3.8,"s":"F","c":"c"},{"x":2.65,"y":3.3,"s":"F","c":"c"},{"x":2.87,"y":2.8,"s":"F","c":"c"},{"x":3.4,"y":2.6,"s":"F","c":"c"},{"x":3.93,"y":2.8,"s":"F","c":"c"},
{"x":4.8,"y":4.9,"s":"F","c":"e"},{"x":4.7,"y":5.0,"s":"F","c":"e"},{"x":4.6,"y":4.9,"s":"F","c":"e"},{"x":4.7,"y":4.8,"s":"F","c":"e"},
{"x":7.45,"y":5.5,"s":"F","c":"f"},{"x":7.35,"y":5.6,"s":"F","c":"f"},{"x":7.25,"y":5.5,"s":"F","c":"f"},{"x":7.35,"y":5.4,"s":"F","c":"f"},
{"x":11.08,"y":5.35,"s":"F","c":"g"},{"x":10.98,"y":5.45,"s":"F","c":"g"},{"x":10.88,"y":5.35,"s":"F","c":"g"},{"x":10.98,"y":5.25,"s":"F","c":"g"},
{"x":2.45,"y":2.15,"s":"K","c":"o"},{"x":2.4,"y":3.5,"s":"K","c":"o"},{"x":2.55,"y":4.3,"s":"K","c":"o"},{"x":3.55,"y":4.5,"s":"K","c":"o"},{"x":4.25,"y":4.75,"s":"K","c":"o"},{"x":4.65,"y":5.4,"s":"K","c":"o"},{"x":5.35,"y":6.2,"s":"K","c":"o"},{"x":6.4,"y":7.35,"s":"K","c":"o"},{"x":7.5,"y":8.4,"s":"K","c":"o"},{"x":8.55,"y":9.4,"s":"K","c":"o"},{"x":9.6,"y":10.4,"s":"K","c":"o"},{"x":10.5,"y":11.35,"s":"K","c":"o"},{"x":11.15,"y":11.7,"s":"K","c":"o"},{"x":11.7,"y":11.85,"s":"K","c":"o"},{"x":12.15,"y":11.65,"s":"K","c":"o"},{"x":12.1,"y":10.7,"s":"K","c":"o"},{"x":12.0,"y":9.7,"s":"K","c":"o"},{"x":11.9,"y":8.9,"s":"K","c":"o"},{"x":11.7,"y":8.1,"s":"K","c":"o"},{"x":11.9,"y":7.1,"s":"K","c":"o"},{"x":11.85,"y":6.1,"s":"K","c":"o"},{"x":11.7,"y":5.4,"s":"K","c":"o"},{"x":11.3,"y":4.75,"s":"K","c":"o"},{"x":10.7,"y":4.15,"s":"K","c":"o"},{"x":10.4,"y":3.65,"s":"K","c":"o"},{"x":9.5,"y":3.4,"s":"K","c":"o"},{"x":8.6,"y":3.3,"s":"K","c":"o"},{"x":8.5,"y":2.35,"s":"K","c":"o"},{"x":6.0,"y":2.25,"s":"K","c":"o"},{"x":3.5,"y":2.15,"s":"K","c":"o"},
{"x":5.25,"y":5.35,"s":"K","c":"d"},{"x":5.55,"y":5.9,"s":"K","c":"d"},{"x":6.15,"y":6.65,"s":"K","c":"d"},{"x":7.2,"y":7.65,"s":"K","c":"d"},{"x":8.3,"y":8.65,"s":"K","c":"d"},{"x":9.15,"y":9.5,"s":"K","c":"d"},{"x":9.5,"y":9.8,"s":"K","c":"d"},{"x":9.5,"y":9.1,"s":"K","c":"d"},{"x":9.15,"y":8.45,"s":"K","c":"d"},{"x":8.3,"y":7.9,"s":"K","c":"d"},{"x":7.2,"y":7.05,"s":"K","c":"d"},{"x":6.15,"y":6.05,"s":"K","c":"d"},{"x":5.55,"y":5.5,"s":"K","c":"d"},
{"x":4.2,"y":4.4,"s":"K","c":"b"},{"x":6.0,"y":4.4,"s":"K","c":"b"},{"x":8.0,"y":4.3,"s":"K","c":"b"},{"x":9.8,"y":4.15,"s":"K","c":"b"},{"x":10.45,"y":3.9,"s":"K","c":"b"},{"x":9.9,"y":3.6,"s":"K","c":"b"},{"x":8.0,"y":3.45,"s":"K","c":"b"},{"x":6.0,"y":3.4,"s":"K","c":"b"},{"x":4.3,"y":3.35,"s":"K","c":"b"},
{"x":4.2,"y":3.35,"s":"K","c":"c"},{"x":3.95,"y":3.85,"s":"K","c":"c"},{"x":3.4,"y":4.05,"s":"K","c":"c"},{"x":2.85,"y":3.85,"s":"K","c":"c"},{"x":2.6,"y":3.35,"s":"K","c":"c"},{"x":2.85,"y":2.85,"s":"K","c":"c"},{"x":3.4,"y":2.65,"s":"K","c":"c"},{"x":3.95,"y":2.85,"s":"K","c":"c"}],
"c41":[
{"x":2.45,"y":2.1,"s":"F","c":"o"},{"x":2.45,"y":3.8,"s":"F","c":"o"},{"x":2.55,"y":4.5,"s":"F","c":"o"},{"x":3.0,"y":4.8,"s":"F","c":"o"},{"x":3.3,"y":5.4,"s":"F","c":"o"},{"x":3.7,"y":6.2,"s":"F","c":"o"},{"x":4.1,"y":7.2,"s":"F","c":"o"},{"x":4.75,"y":8.45,"s":"F","c":"o"},{"x":5.6,"y":9.5,"s":"F","c":"o"},{"x":6.4,"y":10.26,"s":"F","c":"o"},{"x":6.8,"y":10.5,"s":"F","c":"o"},{"x":7.2,"y":10.0,"s":"F","c":"o"},{"x":7.0,"y":9.1,"s":"F","c":"o"},{"x":7.4,"y":8.6,"s":"F","c":"o"},{"x":7.8,"y":8.45,"s":"F","c":"o"},{"x":7.7,"y":7.85,"s":"F","c":"o"},{"x":8.0,"y":7.1,"s":"F","c":"o"},{"x":8.65,"y":6.2,"s":"F","c":"o"},{"x":9.3,"y":5.6,"s":"F","c":"o"},{"x":10.1,"y":5.0,"s":"F","c":"o"},{"x":11.3,"y":4.55,"s":"F","c":"o"},{"x":12.95,"y":4.1,"s":"F","c":"o"},{"x":14.4,"y":3.8,"s":"F","c":"o"},{"x":15.0,"y":3.55,"s":"F","c":"o"},{"x":14.2,"y":3.3,"s":"F","c":"o"},{"x":12.6,"y":3.1,"s":"F","c":"o"},{"x":12.6,"y":2.8,"s":"F","c":"o"},{"x":8.0,"y":2.75,"s":"F","c":"o"},{"x":5.0,"y":2.7,"s":"F","c":"o"},{"x":4.7,"y":2.1,"s":"F","c":"o"},{"x":3.5,"y":2.0,"s":"F","c":"o"},
{"x":4.3,"y":3.5,"s":"F","c":"b"},{"x":5.5,"y":3.85,"s":"F","c":"b"},{"x":8.0,"y":3.9,"s":"F","c":"b"},{"x":10.5,"y":3.85,"s":"F","c":"b"},{"x":12.6,"y":3.65,"s":"F","c":"b"},{"x":12.9,"y":3.4,"s":"F","c":"b"},{"x":11.0,"y":3.15,"s":"F","c":"b"},{"x":8.0,"y":3.1,"s":"F","c":"b"},{"x":5.5,"y":3.15,"s":"F","c":"b"},{"x":4.4,"y":3.3,"s":"F","c":"b"},
{"x":4.1,"y":3.55,"s":"F","c":"c"},{"x":3.87,"y":4.05,"s":"F","c":"c"},{"x":3.3,"y":4.25,"s":"F","c":"c"},{"x":2.73,"y":4.05,"s":"F","c":"c"},{"x":2.5,"y":3.55,"s":"F","c":"c"},{"x":2.73,"y":3.05,"s":"F","c":"c"},{"x":3.3,"y":2.85,"s":"F","c":"c"},{"x":3.87,"y":3.05,"s":"F","c":"c"},
{"x":7.65,"y":11.0,"s":"F","c":"e"},{"x":7.5,"y":11.12,"s":"F","c":"e"},{"x":7.35,"y":11.0,"s":"F","c":"e"},{"x":7.5,"y":10.88,"s":"F","c":"e"},
{"x":2.4,"y":2.05,"s":"K","c":"o"},{"x":2.4,"y":3.8,"s":"K","c":"o"},{"x":2.5,"y":4.55,"s":"K","c":"o"},{"x":2.95,"y":4.85,"s":"K","c":"o"},{"x":3.25,"y":5.5,"s":"K","c":"o"},{"x":3.65,"y":6.3,"s":"K","c":"o"},{"x":4.05,"y":7.3,"s":"K","c":"o"},{"x":4.7,"y":8.5,"s":"K","c":"o"},{"x":5.55,"y":9.55,"s":"K","c":"o"},{"x":6.35,"y":10.3,"s":"K","c":"o"},{"x":6.8,"y":10.55,"s":"K","c":"o"},{"x":7.25,"y":10.0,"s":"K","c":"o"},{"x":7.05,"y":9.1,"s":"K","c":"o"},{"x":7.45,"y":8.65,"s":"K","c":"o"},{"x":7.85,"y":8.5,"s":"K","c":"o"},{"x":7.75,"y":7.85,"s":"K","c":"o"},{"x":8.05,"y":7.1,"s":"K","c":"o"},{"x":8.7,"y":6.2,"s":"K","c":"o"},{"x":9.35,"y":5.65,"s":"K","c":"o"},{"x":10.15,"y":5.05,"s":"K","c":"o"},{"x":11.35,"y":4.6,"s":"K","c":"o"},{"x":13.0,"y":4.15,"s":"K","c":"o"},{"x":14.5,"y":3.85,"s":"K","c":"o"},{"x":15.1,"y":3.55,"s":"K","c":"o"},{"x":14.3,"y":3.25,"s":"K","c":"o"},{"x":12.7,"y":3.05,"s":"K","c":"o"},{"x":12.7,"y":2.75,"s":"K","c":"o"},{"x":8.0,"y":2.7,"s":"K","c":"o"},{"x":5.0,"y":2.65,"s":"K","c":"o"},{"x":4.75,"y":2.05,"s":"K","c":"o"},{"x":3.5,"y":1.95,"s":"K","c":"o"},
{"x":4.4,"y":3.55,"s":"K","c":"b"},{"x":5.6,"y":3.9,"s":"K","c":"b"},{"x":8.0,"y":3.95,"s":"K","c":"b"},{"x":10.5,"y":3.9,"s":"K","c":"b"},{"x":12.7,"y":3.7,"s":"K","c":"b"},{"x":13.0,"y":3.45,"s":"K","c":"b"},{"x":11.0,"y":3.2,"s":"K","c":"b"},{"x":8.0,"y":3.15,"s":"K","c":"b"},{"x":5.6,"y":3.2,"s":"K","c":"b"},{"x":4.5,"y":3.35,"s":"K","c":"b"},
{"x":4.15,"y":3.6,"s":"K","c":"c"},{"x":3.9,"y":4.1,"s":"K","c":"c"},{"x":3.3,"y":4.3,"s":"K","c":"c"},{"x":2.7,"y":4.1,"s":"K","c":"c"},{"x":2.45,"y":3.6,"s":"K","c":"c"},{"x":2.7,"y":3.05,"s":"K","c":"c"},{"x":3.3,"y":2.85,"s":"K","c":"c"},{"x":3.9,"y":3.05,"s":"K","c":"c"}],
"c42":[
{"x":2.5,"y":2.3,"s":"F","c":"o"},{"x":2.45,"y":3.6,"s":"F","c":"o"},{"x":2.6,"y":4.4,"s":"F","c":"o"},{"x":3.3,"y":4.55,"s":"F","c":"o"},{"x":4.15,"y":4.55,"s":"F","c":"o"},{"x":4.7,"y":5.4,"s":"F","c":"o"},{"x":5.22,"y":6.33,"s":"F","c":"o"},{"x":6.1,"y":7.54,"s":"F","c":"o"},{"x":6.9,"y":8.3,"s":"F","c":"o"},{"x":7.7,"y":9.06,"s":"F","c":"o"},{"x":8.77,"y":10.11,"s":"F","c":"o"},{"x":9.48,"y":10.33,"s":"F","c":"o"},{"x":10.0,"y":10.11,"s":"F","c":"o"},{"x":10.2,"y":9.2,"s":"F","c":"o"},{"x":9.7,"y":8.6,"s":"F","c":"o"},{"x":10.2,"y":7.99,"s":"F","c":"o"},{"x":10.55,"y":7.38,"s":"F","c":"o"},{"x":10.9,"y":6.63,"s":"F","c":"o"},{"x":11.27,"y":6.02,"s":"F","c":"o"},{"x":11.98,"y":5.42,"s":"F","c":"o"},{"x":12.5,"y":4.81,"s":"F","c":"o"},{"x":13.2,"y":3.9,"s":"F","c":"o"},{"x":13.0,"y":3.6,"s":"F","c":"o"},{"x":12.16,"y":3.39,"s":"F","c":"o"},{"x":11.1,"y":3.3,"s":"F","c":"o"},{"x":11.1,"y":2.75,"s":"F","c":"o"},{"x":7.0,"y":2.6,"s":"F","c":"o"},{"x":3.5,"y":2.45,"s":"F","c":"o"},
{"x":4.2,"y":3.95,"s":"F","c":"b"},{"x":6.0,"y":3.95,"s":"F","c":"b"},{"x":8.5,"y":3.95,"s":"F","c":"b"},{"x":10.5,"y":3.9,"s":"F","c":"b"},{"x":11.8,"y":3.7,"s":"F","c":"b"},{"x":11.2,"y":3.45,"s":"F","c":"b"},{"x":9.0,"y":3.35,"s":"F","c":"b"},{"x":6.5,"y":3.3,"s":"F","c":"b"},{"x":4.3,"y":3.25,"s":"F","c":"b"},
{"x":4.1,"y":3.45,"s":"F","c":"c"},{"x":3.87,"y":3.9,"s":"F","c":"c"},{"x":3.3,"y":4.1,"s":"F","c":"c"},{"x":2.73,"y":3.9,"s":"F","c":"c"},{"x":2.5,"y":3.45,"s":"F","c":"c"},{"x":2.73,"y":3.0,"s":"F","c":"c"},{"x":3.3,"y":2.8,"s":"F","c":"c"},{"x":3.87,"y":3.0,"s":"F","c":"c"},
{"x":10.35,"y":10.96,"s":"F","c":"e"},{"x":10.2,"y":11.08,"s":"F","c":"e"},{"x":10.05,"y":10.96,"s":"F","c":"e"},{"x":10.2,"y":10.84,"s":"F","c":"e"},
{"x":10.25,"y":8.5,"s":"F","c":"f"},{"x":10.0,"y":8.65,"s":"F","c":"f"},{"x":9.75,"y":8.5,"s":"F","c":"f"},{"x":10.0,"y":8.35,"s":"F","c":"f"},
{"x":8.32,"y":6.7,"s":"F","c":"g"},{"x":8.2,"y":6.82,"s":"F","c":"g"},{"x":8.08,"y":6.7,"s":"F","c":"g"},{"x":8.2,"y":6.58,"s":"F","c":"g"},
{"x":7.25,"y":5.6,"s":"F","c":"h"},{"x":7.17,"y":5.68,"s":"F","c":"h"},{"x":7.09,"y":5.6,"s":"F","c":"h"},{"x":7.17,"y":5.52,"s":"F","c":"h"},
{"x":10.92,"y":6.8,"s":"F","c":"j"},{"x":10.8,"y":6.92,"s":"F","c":"j"},{"x":10.68,"y":6.8,"s":"F","c":"j"},{"x":10.8,"y":6.68,"s":"F","c":"j"},
{"x":2.45,"y":2.25,"s":"K","c":"o"},{"x":2.4,"y":3.6,"s":"K","c":"o"},{"x":2.55,"y":4.45,"s":"K","c":"o"},{"x":3.3,"y":4.6,"s":"K","c":"o"},{"x":4.1,"y":4.6,"s":"K","c":"o"},{"x":4.65,"y":5.45,"s":"K","c":"o"},{"x":5.2,"y":6.4,"s":"K","c":"o"},{"x":6.05,"y":7.6,"s":"K","c":"o"},{"x":6.85,"y":8.35,"s":"K","c":"o"},{"x":7.65,"y":9.1,"s":"K","c":"o"},{"x":8.75,"y":10.15,"s":"K","c":"o"},{"x":9.5,"y":10.38,"s":"K","c":"o"},{"x":10.05,"y":10.15,"s":"K","c":"o"},{"x":10.25,"y":9.2,"s":"K","c":"o"},{"x":9.75,"y":8.6,"s":"K","c":"o"},{"x":10.25,"y":8.0,"s":"K","c":"o"},{"x":10.6,"y":7.38,"s":"K","c":"o"},{"x":10.95,"y":6.63,"s":"K","c":"o"},{"x":11.3,"y":6.02,"s":"K","c":"o"},{"x":12.0,"y":5.4,"s":"K","c":"o"},{"x":12.55,"y":4.8,"s":"K","c":"o"},{"x":13.3,"y":3.9,"s":"K","c":"o"},{"x":13.05,"y":3.55,"s":"K","c":"o"},{"x":12.2,"y":3.35,"s":"K","c":"o"},{"x":11.2,"y":3.25,"s":"K","c":"o"},{"x":11.2,"y":2.7,"s":"K","c":"o"},{"x":7.0,"y":2.55,"s":"K","c":"o"},{"x":3.5,"y":2.4,"s":"K","c":"o"},
{"x":4.25,"y":4.0,"s":"K","c":"b"},{"x":6.0,"y":4.0,"s":"K","c":"b"},{"x":8.5,"y":4.0,"s":"K","c":"b"},{"x":10.5,"y":3.95,"s":"K","c":"b"},{"x":11.9,"y":3.72,"s":"K","c":"b"},{"x":11.3,"y":3.45,"s":"K","c":"b"},{"x":9.0,"y":3.32,"s":"K","c":"b"},{"x":6.5,"y":3.27,"s":"K","c":"b"},{"x":4.35,"y":3.2,"s":"K","c":"b"},
{"x":4.15,"y":3.5,"s":"K","c":"c"},{"x":3.9,"y":3.95,"s":"K","c":"c"},{"x":3.3,"y":4.15,"s":"K","c":"c"},{"x":2.7,"y":3.95,"s":"K","c":"c"},{"x":2.45,"y":3.5,"s":"K","c":"c"},{"x":2.7,"y":3.0,"s":"K","c":"c"},{"x":3.3,"y":2.8,"s":"K","c":"c"},{"x":3.9,"y":3.0,"s":"K","c":"c"},
{"x":10.2,"y":8.45,"s":"K","c":"f"},{"x":10.0,"y":8.6,"s":"K","c":"f"},{"x":9.8,"y":8.45,"s":"K","c":"f"},{"x":10.0,"y":8.3,"s":"K","c":"f"}],
"c43":[
{"x":2.43,"y":2.54,"s":"F","c":"o"},{"x":2.43,"y":4.2,"s":"F","c":"o"},{"x":2.83,"y":4.45,"s":"F","c":"o"},{"x":4.17,"y":4.66,"s":"F","c":"o"},{"x":4.84,"y":5.72,"s":"F","c":"o"},{"x":5.51,"y":6.63,"s":"F","c":"o"},{"x":6.51,"y":7.54,"s":"F","c":"o"},{"x":7.52,"y":8.45,"s":"F","c":"o"},{"x":8.52,"y":9.35,"s":"F","c":"o"},{"x":9.35,"y":9.97,"s":"F","c":"o"},{"x":10.19,"y":10.26,"s":"F","c":"o"},{"x":10.69,"y":10.11,"s":"F","c":"o"},{"x":10.86,"y":9.66,"s":"F","c":"o"},{"x":10.53,"y":8.9,"s":"F","c":"o"},{"x":9.85,"y":8.6,"s":"F","c":"o"},{"x":10.19,"y":8.3,"s":"F","c":"o"},{"x":10.02,"y":7.24,"s":"F","c":"o"},{"x":10.19,"y":6.02,"s":"F","c":"o"},{"x":9.85,"y":5.11,"s":"F","c":"o"},{"x":9.18,"y":4.2,"s":"F","c":"o"},{"x":7.85,"y":3.6,"s":"F","c":"o"},{"x":6.17,"y":3.3,"s":"F","c":"o"},{"x":4.5,"y":3.0,"s":"F","c":"o"},{"x":3.5,"y":2.69,"s":"F","c":"o"},{"x":2.6,"y":2.54,"s":"F","c":"o"},
{"x":2.55,"y":2.7,"s":"F","c":"t"},{"x":2.5,"y":4.05,"s":"F","c":"t"},{"x":2.9,"y":4.3,"s":"F","c":"t"},{"x":3.8,"y":4.25,"s":"F","c":"t"},{"x":4.3,"y":3.95,"s":"F","c":"t"},{"x":4.9,"y":3.85,"s":"F","c":"t"},{"x":4.4,"y":3.6,"s":"F","c":"t"},{"x":4.1,"y":3.0,"s":"F","c":"t"},{"x":3.4,"y":2.75,"s":"F","c":"t"},
{"x":3.97,"y":3.55,"s":"F","c":"c"},{"x":3.76,"y":3.99,"s":"F","c":"c"},{"x":3.25,"y":4.17,"s":"F","c":"c"},{"x":2.74,"y":3.99,"s":"F","c":"c"},{"x":2.53,"y":3.55,"s":"F","c":"c"},{"x":2.74,"y":3.11,"s":"F","c":"c"},{"x":3.25,"y":2.93,"s":"F","c":"c"},{"x":3.76,"y":3.11,"s":"F","c":"c"},
{"x":2.38,"y":2.5,"s":"K","c":"o"},{"x":2.38,"y":4.25,"s":"K","c":"o"},{"x":2.8,"y":4.52,"s":"K","c":"o"},{"x":4.12,"y":4.72,"s":"K","c":"o"},{"x":4.8,"y":5.8,"s":"K","c":"o"},{"x":5.48,"y":6.7,"s":"K","c":"o"},{"x":6.48,"y":7.6,"s":"K","c":"o"},{"x":7.5,"y":8.5,"s":"K","c":"o"},{"x":8.5,"y":9.42,"s":"K","c":"o"},{"x":9.35,"y":10.05,"s":"K","c":"o"},{"x":10.2,"y":10.33,"s":"K","c":"o"},{"x":10.75,"y":10.15,"s":"K","c":"o"},{"x":10.92,"y":9.66,"s":"K","c":"o"},{"x":10.58,"y":8.88,"s":"K","c":"o"},{"x":9.9,"y":8.6,"s":"K","c":"o"},{"x":10.25,"y":8.3,"s":"K","c":"o"},{"x":10.08,"y":7.24,"s":"K","c":"o"},{"x":10.24,"y":6.0,"s":"K","c":"o"},{"x":9.9,"y":5.08,"s":"K","c":"o"},{"x":9.22,"y":4.15,"s":"K","c":"o"},{"x":7.85,"y":3.55,"s":"K","c":"o"},{"x":6.17,"y":3.25,"s":"K","c":"o"},{"x":4.5,"y":2.95,"s":"K","c":"o"},{"x":3.5,"y":2.64,"s":"K","c":"o"},{"x":2.6,"y":2.5,"s":"K","c":"o"},
{"x":2.45,"y":2.6,"s":"K","c":"t"},{"x":2.4,"y":4.15,"s":"K","c":"t"},{"x":2.85,"y":4.4,"s":"K","c":"t"},{"x":3.8,"y":4.35,"s":"K","c":"t"},{"x":4.4,"y":4.0,"s":"K","c":"t"},{"x":5.2,"y":3.9,"s":"K","c":"t"},{"x":4.5,"y":3.6,"s":"K","c":"t"},{"x":4.2,"y":2.95,"s":"K","c":"t"},{"x":3.4,"y":2.65,"s":"K","c":"t"},
{"x":4.0,"y":3.58,"s":"K","c":"c"},{"x":3.78,"y":4.02,"s":"K","c":"c"},{"x":3.25,"y":4.2,"s":"K","c":"c"},{"x":2.72,"y":4.02,"s":"K","c":"c"},{"x":2.5,"y":3.58,"s":"K","c":"c"},{"x":2.72,"y":3.12,"s":"K","c":"c"},{"x":3.25,"y":2.94,"s":"K","c":"c"},{"x":3.78,"y":3.12,"s":"K","c":"c"}],
"c51":[
{"x":2.4,"y":2.5,"s":"F","c":"o"},{"x":2.4,"y":4.46,"s":"F","c":"o"},{"x":2.9,"y":4.6,"s":"F","c":"o"},{"x":3.6,"y":5.7,"s":"F","c":"o"},{"x":4.14,"y":7.34,"s":"F","c":"o"},{"x":4.56,"y":8.3,"s":"F","c":"o"},{"x":5.17,"y":8.98,"s":"F","c":"o"},{"x":5.79,"y":9.53,"s":"F","c":"o"},{"x":6.07,"y":9.75,"s":"F","c":"o"},{"x":6.27,"y":9.53,"s":"F","c":"o"},{"x":6.4,"y":8.44,"s":"F","c":"o"},{"x":6.72,"y":7.48,"s":"F","c":"o"},{"x":6.48,"y":6.8,"s":"F","c":"o"},{"x":6.4,"y":6.25,"s":"F","c":"o"},{"x":7.0,"y":5.83,"s":"F","c":"o"},{"x":7.63,"y":5.56,"s":"F","c":"o"},{"x":8.03,"y":5.01,"s":"F","c":"o"},{"x":8.44,"y":4.74,"s":"F","c":"o"},{"x":10.08,"y":4.46,"s":"F","c":"o"},{"x":12.54,"y":4.11,"s":"F","c":"o"},{"x":14.58,"y":3.84,"s":"F","c":"o"},{"x":15.2,"y":3.51,"s":"F","c":"o"},{"x":14.2,"y":3.18,"s":"F","c":"o"},{"x":12.75,"y":2.96,"s":"F","c":"o"},{"x":12.75,"y":2.63,"s":"F","c":"o"},{"x":6.8,"y":2.57,"s":"F","c":"o"},{"x":2.8,"y":2.47,"s":"F","c":"o"},
{"x":4.3,"y":3.55,"s":"F","c":"b"},{"x":5.4,"y":3.78,"s":"F","c":"b"},{"x":8.0,"y":3.8,"s":"F","c":"b"},{"x":10.5,"y":3.72,"s":"F","c":"b"},{"x":12.9,"y":3.55,"s":"F","c":"b"},{"x":12.5,"y":3.3,"s":"F","c":"b"},{"x":10.0,"y":3.25,"s":"F","c":"b"},{"x":7.0,"y":3.25,"s":"F","c":"b"},{"x":5.3,"y":3.3,"s":"F","c":"b"},{"x":4.4,"y":3.4,"s":"F","c":"b"},
{"x":4.08,"y":3.55,"s":"F","c":"c"},{"x":3.85,"y":3.98,"s":"F","c":"c"},{"x":3.3,"y":4.15,"s":"F","c":"c"},{"x":2.75,"y":3.98,"s":"F","c":"c"},{"x":2.52,"y":3.55,"s":"F","c":"c"},{"x":2.75,"y":3.12,"s":"F","c":"c"},{"x":3.3,"y":2.95,"s":"F","c":"c"},{"x":3.85,"y":3.12,"s":"F","c":"c"},
{"x":2.35,"y":2.45,"s":"K","c":"o"},{"x":2.35,"y":4.5,"s":"K","c":"o"},{"x":2.85,"y":4.68,"s":"K","c":"o"},{"x":3.55,"y":5.75,"s":"K","c":"o"},{"x":4.1,"y":7.4,"s":"K","c":"o"},{"x":4.52,"y":8.35,"s":"K","c":"o"},{"x":5.13,"y":9.05,"s":"K","c":"o"},{"x":5.75,"y":9.6,"s":"K","c":"o"},{"x":6.05,"y":9.8,"s":"K","c":"o"},{"x":6.3,"y":9.55,"s":"K","c":"o"},{"x":6.45,"y":8.44,"s":"K","c":"o"},{"x":6.78,"y":7.48,"s":"K","c":"o"},{"x":6.53,"y":6.8,"s":"K","c":"o"},{"x":6.45,"y":6.25,"s":"K","c":"o"},{"x":7.05,"y":5.85,"s":"K","c":"o"},{"x":7.68,"y":5.58,"s":"K","c":"o"},{"x":8.08,"y":5.03,"s":"K","c":"o"},{"x":8.5,"y":4.78,"s":"K","c":"o"},{"x":10.1,"y":4.5,"s":"K","c":"o"},{"x":12.55,"y":4.15,"s":"K","c":"o"},{"x":14.6,"y":3.87,"s":"K","c":"o"},{"x":15.25,"y":3.5,"s":"K","c":"o"},{"x":14.25,"y":3.15,"s":"K","c":"o"},{"x":12.8,"y":2.92,"s":"K","c":"o"},{"x":12.8,"y":2.58,"s":"K","c":"o"},{"x":6.8,"y":2.52,"s":"K","c":"o"},{"x":2.8,"y":2.42,"s":"K","c":"o"},
{"x":4.4,"y":3.58,"s":"K","c":"b"},{"x":5.37,"y":3.8,"s":"K","c":"b"},{"x":8.0,"y":3.84,"s":"K","c":"b"},{"x":10.5,"y":3.76,"s":"K","c":"b"},{"x":12.95,"y":3.55,"s":"K","c":"b"},{"x":12.5,"y":3.26,"s":"K","c":"b"},{"x":10.0,"y":3.22,"s":"K","c":"b"},{"x":7.0,"y":3.22,"s":"K","c":"b"},{"x":5.4,"y":3.26,"s":"K","c":"b"},{"x":4.5,"y":3.38,"s":"K","c":"b"},
{"x":4.13,"y":3.58,"s":"K","c":"c"},{"x":3.88,"y":4.02,"s":"K","c":"c"},{"x":3.3,"y":4.2,"s":"K","c":"c"},{"x":2.72,"y":4.02,"s":"K","c":"c"},{"x":2.47,"y":3.58,"s":"K","c":"c"},{"x":2.72,"y":3.12,"s":"K","c":"c"},{"x":3.3,"y":2.94,"s":"K","c":"c"},{"x":3.88,"y":3.12,"s":"K","c":"c"}],
"c52":[
{"x":2.55,"y":2.58,"s":"F","c":"o"},{"x":2.55,"y":4.46,"s":"F","c":"o"},{"x":3.26,"y":4.65,"s":"F","c":"o"},{"x":4.33,"y":5.01,"s":"F","c":"o"},{"x":5.04,"y":5.7,"s":"F","c":"o"},{"x":5.75,"y":6.25,"s":"F","c":"o"},{"x":6.1,"y":7.2,"s":"F","c":"o"},{"x":6.46,"y":8.03,"s":"F","c":"o"},{"x":6.82,"y":8.57,"s":"F","c":"o"},{"x":7.6,"y":8.66,"s":"F","c":"o"},{"x":7.9,"y":8.98,"s":"F","c":"o"},{"x":8.06,"y":9.53,"s":"F","c":"o"},{"x":8.3,"y":9.66,"s":"F","c":"o"},{"x":8.5,"y":9.53,"s":"F","c":"o"},{"x":8.6,"y":9.12,"s":"F","c":"o"},{"x":8.8,"y":8.71,"s":"F","c":"o"},{"x":9.3,"y":8.03,"s":"F","c":"o"},{"x":9.66,"y":7.62,"s":"F","c":"o"},{"x":9.5,"y":7.07,"s":"F","c":"o"},{"x":10.0,"y":6.52,"s":"F","c":"o"},{"x":10.4,"y":6.11,"s":"F","c":"o"},{"x":10.0,"y":5.7,"s":"F","c":"o"},{"x":10.74,"y":5.29,"s":"F","c":"o"},{"x":11.8,"y":4.6,"s":"F","c":"o"},{"x":13.2,"y":4.05,"s":"F","c":"o"},{"x":14.1,"y":3.78,"s":"F","c":"o"},{"x":14.3,"y":3.51,"s":"F","c":"o"},{"x":13.6,"y":3.37,"s":"F","c":"o"},{"x":11.8,"y":3.24,"s":"F","c":"o"},{"x":11.8,"y":2.63,"s":"F","c":"o"},
{"x":4.15,"y":3.6,"s":"F","c":"b"},{"x":5.5,"y":3.85,"s":"F","c":"b"},{"x":8.0,"y":3.9,"s":"F","c":"b"},{"x":10.5,"y":3.85,"s":"F","c":"b"},{"x":11.95,"y":3.6,"s":"F","c":"b"},{"x":11.3,"y":3.35,"s":"F","c":"b"},{"x":9.0,"y":3.28,"s":"F","c":"b"},{"x":6.5,"y":3.26,"s":"F","c":"b"},{"x":4.3,"y":3.3,"s":"F","c":"b"},
{"x":4.08,"y":3.55,"s":"F","c":"c"},{"x":3.85,"y":3.98,"s":"F","c":"c"},{"x":3.3,"y":4.15,"s":"F","c":"c"},{"x":2.75,"y":3.98,"s":"F","c":"c"},{"x":2.52,"y":3.55,"s":"F","c":"c"},{"x":2.75,"y":3.12,"s":"F","c":"c"},{"x":3.3,"y":2.95,"s":"F","c":"c"},{"x":3.85,"y":3.12,"s":"F","c":"c"},
{"x":8.4,"y":7.6,"s":"F","c":"e"},{"x":8.2,"y":7.75,"s":"F","c":"e"},{"x":8.0,"y":7.6,"s":"F","c":"e"},{"x":8.2,"y":7.45,"s":"F","c":"e"},
{"x":7.98,"y":6.7,"s":"F","c":"g"},{"x":7.9,"y":6.78,"s":"F","c":"g"},{"x":7.82,"y":6.7,"s":"F","c":"g"},{"x":7.9,"y":6.62,"s":"F","c":"g"},
{"x":9.58,"y":5.56,"s":"F","c":"h"},{"x":9.5,"y":5.64,"s":"F","c":"h"},{"x":9.42,"y":5.56,"s":"F","c":"h"},{"x":9.5,"y":5.48,"s":"F","c":"h"},
{"x":2.5,"y":2.55,"s":"K","c":"o"},{"x":2.5,"y":4.5,"s":"K","c":"o"},{"x":3.22,"y":4.7,"s":"K","c":"o"},{"x":4.3,"y":5.06,"s":"K","c":"o"},{"x":5.0,"y":5.75,"s":"K","c":"o"},{"x":5.72,"y":6.3,"s":"K","c":"o"},{"x":6.06,"y":7.25,"s":"K","c":"o"},{"x":6.42,"y":8.08,"s":"K","c":"o"},{"x":6.8,"y":8.62,"s":"K","c":"o"},{"x":7.58,"y":8.7,"s":"K","c":"o"},{"x":7.88,"y":9.02,"s":"K","c":"o"},{"x":8.05,"y":9.58,"s":"K","c":"o"},{"x":8.3,"y":9.72,"s":"K","c":"o"},{"x":8.52,"y":9.56,"s":"K","c":"o"},{"x":8.64,"y":9.12,"s":"K","c":"o"},{"x":8.85,"y":8.7,"s":"K","c":"o"},{"x":9.35,"y":8.0,"s":"K","c":"o"},{"x":9.7,"y":7.6,"s":"K","c":"o"},{"x":9.55,"y":7.05,"s":"K","c":"o"},{"x":10.05,"y":6.5,"s":"K","c":"o"},{"x":10.45,"y":6.1,"s":"K","c":"o"},{"x":10.05,"y":5.7,"s":"K","c":"o"},{"x":10.8,"y":5.27,"s":"K","c":"o"},{"x":11.85,"y":4.58,"s":"K","c":"o"},{"x":13.25,"y":4.03,"s":"K","c":"o"},{"x":14.0,"y":3.8,"s":"K","c":"o"},{"x":14.2,"y":3.5,"s":"K","c":"o"},{"x":13.5,"y":3.35,"s":"K","c":"o"},{"x":11.7,"y":3.2,"s":"K","c":"o"},{"x":11.7,"y":2.6,"s":"K","c":"o"},
{"x":4.2,"y":3.62,"s":"K","c":"b"},{"x":5.5,"y":3.9,"s":"K","c":"b"},{"x":8.0,"y":3.93,"s":"K","c":"b"},{"x":10.5,"y":3.88,"s":"K","c":"b"},{"x":12.0,"y":3.62,"s":"K","c":"b"},{"x":11.35,"y":3.33,"s":"K","c":"b"},{"x":9.0,"y":3.24,"s":"K","c":"b"},{"x":6.5,"y":3.22,"s":"K","c":"b"},{"x":4.35,"y":3.28,"s":"K","c":"b"},
{"x":4.13,"y":3.58,"s":"K","c":"c"},{"x":3.88,"y":4.02,"s":"K","c":"c"},{"x":3.3,"y":4.2,"s":"K","c":"c"},{"x":2.72,"y":4.02,"s":"K","c":"c"},{"x":2.47,"y":3.58,"s":"K","c":"c"},{"x":2.72,"y":3.12,"s":"K","c":"c"},{"x":3.3,"y":2.94,"s":"K","c":"c"},{"x":3.88,"y":3.12,"s":"K","c":"c"},
{"x":8.35,"y":7.2,"s":"K","c":"e"},{"x":8.05,"y":7.5,"s":"K","c":"e"},{"x":7.75,"y":7.2,"s":"K","c":"e"},{"x":8.05,"y":6.9,"s":"K","c":"e"},
{"x":5.32,"y":5.2,"s":"K","c":"f"},{"x":5.2,"y":5.38,"s":"K","c":"f"},{"x":5.08,"y":5.2,"s":"K","c":"f"},{"x":5.2,"y":5.02,"s":"K","c":"f"}],
"c53":[
{"x":2.33,"y":2.58,"s":"F","c":"o"},{"x":2.33,"y":4.36,"s":"F","c":"o"},{"x":2.83,"y":4.6,"s":"F","c":"o"},{"x":3.84,"y":4.87,"s":"F","c":"o"},{"x":4.51,"y":5.7,"s":"F","c":"o"},{"x":5.01,"y":6.52,"s":"F","c":"o"},{"x":5.51,"y":7.34,"s":"F","c":"o"},{"x":6.17,"y":8.03,"s":"F","c":"o"},{"x":7.01,"y":8.44,"s":"F","c":"o"},{"x":7.52,"y":8.57,"s":"F","c":"o"},{"x":8.0,"y":8.1,"s":"F","c":"o"},{"x":8.2,"y":8.4,"s":"F","c":"o"},{"x":8.52,"y":8.57,"s":"F","c":"o"},{"x":8.95,"y":9.26,"s":"F","c":"o"},{"x":9.0,"y":9.58,"s":"F","c":"o"},{"x":9.35,"y":9.53,"s":"F","c":"o"},{"x":9.35,"y":8.98,"s":"F","c":"o"},{"x":9.85,"y":8.44,"s":"F","c":"o"},{"x":9.85,"y":7.34,"s":"F","c":"o"},{"x":9.52,"y":6.52,"s":"F","c":"o"},{"x":10.02,"y":5.7,"s":"F","c":"o"},{"x":10.69,"y":4.87,"s":"F","c":"o"},{"x":11.19,"y":4.19,"s":"F","c":"o"},{"x":11.19,"y":3.51,"s":"F","c":"o"},{"x":10.19,"y":3.1,"s":"F","c":"o"},{"x":6.84,"y":2.9,"s":"F","c":"o"},{"x":6.84,"y":2.63,"s":"F","c":"o"},
{"x":3.85,"y":3.25,"s":"F","c":"t"},{"x":4.5,"y":3.5,"s":"F","c":"t"},{"x":5.4,"y":3.62,"s":"F","c":"t"},{"x":5.9,"y":3.66,"s":"F","c":"t"},{"x":5.4,"y":3.52,"s":"F","c":"t"},{"x":4.6,"y":3.35,"s":"F","c":"t"},{"x":4.0,"y":3.05,"s":"F","c":"t"},
{"x":5.8,"y":5.2,"s":"F","c":"i"},{"x":5.5,"y":5.6,"s":"F","c":"i"},{"x":5.2,"y":5.2,"s":"F","c":"i"},{"x":5.5,"y":4.8,"s":"F","c":"i"},
{"x":3.9,"y":3.55,"s":"F","c":"c"},{"x":3.7,"y":3.94,"s":"F","c":"c"},{"x":3.2,"y":4.1,"s":"F","c":"c"},{"x":2.7,"y":3.94,"s":"F","c":"c"},{"x":2.5,"y":3.55,"s":"F","c":"c"},{"x":2.7,"y":3.16,"s":"F","c":"c"},{"x":3.2,"y":3.0,"s":"F","c":"c"},{"x":3.7,"y":3.16,"s":"F","c":"c"},
{"x":2.28,"y":2.55,"s":"K","c":"o"},{"x":2.28,"y":4.4,"s":"K","c":"o"},{"x":2.8,"y":4.65,"s":"K","c":"o"},{"x":3.8,"y":4.92,"s":"K","c":"o"},{"x":4.47,"y":5.75,"s":"K","c":"o"},{"x":4.97,"y":6.57,"s":"K","c":"o"},{"x":5.47,"y":7.4,"s":"K","c":"o"},{"x":6.14,"y":8.08,"s":"K","c":"o"},{"x":7.0,"y":8.5,"s":"K","c":"o"},{"x":7.5,"y":8.62,"s":"K","c":"o"},{"x":8.0,"y":8.15,"s":"K","c":"o"},{"x":8.22,"y":8.45,"s":"K","c":"o"},{"x":8.55,"y":8.62,"s":"K","c":"o"},{"x":8.98,"y":9.3,"s":"K","c":"o"},{"x":9.05,"y":9.65,"s":"K","c":"o"},{"x":9.4,"y":9.57,"s":"K","c":"o"},{"x":9.4,"y":9.0,"s":"K","c":"o"},{"x":9.9,"y":8.45,"s":"K","c":"o"},{"x":9.9,"y":7.32,"s":"K","c":"o"},{"x":9.58,"y":6.5,"s":"K","c":"o"},{"x":10.08,"y":5.7,"s":"K","c":"o"},{"x":10.74,"y":4.85,"s":"K","c":"o"},{"x":11.25,"y":4.15,"s":"K","c":"o"},{"x":11.22,"y":3.48,"s":"K","c":"o"},{"x":10.2,"y":3.06,"s":"K","c":"o"},{"x":6.9,"y":2.86,"s":"K","c":"o"},{"x":6.9,"y":2.58,"s":"K","c":"o"},
{"x":3.9,"y":3.25,"s":"K","c":"t"},{"x":4.5,"y":3.55,"s":"K","c":"t"},{"x":5.5,"y":3.68,"s":"K","c":"t"},{"x":6.05,"y":3.7,"s":"K","c":"t"},{"x":5.5,"y":3.52,"s":"K","c":"t"},{"x":4.6,"y":3.32,"s":"K","c":"t"},{"x":4.0,"y":3.0,"s":"K","c":"t"},
{"x":5.75,"y":5.25,"s":"K","c":"i"},{"x":5.5,"y":5.62,"s":"K","c":"i"},{"x":5.25,"y":5.25,"s":"K","c":"i"},{"x":5.5,"y":4.88,"s":"K","c":"i"},
{"x":6.65,"y":6.6,"s":"K","c":"j"},{"x":6.4,"y":6.72,"s":"K","c":"j"},{"x":6.15,"y":6.6,"s":"K","c":"j"},{"x":6.4,"y":6.48,"s":"K","c":"j"},
{"x":3.95,"y":3.58,"s":"K","c":"c"},{"x":3.73,"y":3.98,"s":"K","c":"c"},{"x":3.2,"y":4.15,"s":"K","c":"c"},{"x":2.67,"y":3.98,"s":"K","c":"c"},{"x":2.45,"y":3.58,"s":"K","c":"c"},{"x":2.67,"y":3.16,"s":"K","c":"c"},{"x":3.2,"y":2.98,"s":"K","c":"c"},{"x":3.73,"y":3.16,"s":"K","c":"c"}],
"c54":[
{"x":2.45,"y":2.58,"s":"F","c":"o"},{"x":2.45,"y":4.36,"s":"F","c":"o"},{"x":2.9,"y":4.6,"s":"F","c":"o"},{"x":4.11,"y":4.87,"s":"F","c":"o"},{"x":4.72,"y":5.15,"s":"F","c":"o"},{"x":5.32,"y":5.56,"s":"F","c":"o"},{"x":5.93,"y":6.25,"s":"F","c":"o"},{"x":6.54,"y":6.93,"s":"F","c":"o"},{"x":7.14,"y":7.48,"s":"F","c":"o"},{"x":7.75,"y":8.03,"s":"F","c":"o"},{"x":8.36,"y":8.44,"s":"F","c":"o"},{"x":8.96,"y":8.84,"s":"F","c":"o"},{"x":9.41,"y":8.9,"s":"F","c":"o"},{"x":9.57,"y":8.44,"s":"F","c":"o"},{"x":9.27,"y":7.34,"s":"F","c":"o"},{"x":8.96,"y":6.93,"s":"F","c":"o"},{"x":8.5,"y":5.97,"s":"F","c":"o"},{"x":7.75,"y":5.42,"s":"F","c":"o"},{"x":6.84,"y":4.87,"s":"F","c":"o"},{"x":5.93,"y":4.32,"s":"F","c":"o"},{"x":5.02,"y":3.78,"s":"F","c":"o"},{"x":4.11,"y":3.24,"s":"F","c":"o"},{"x":3.2,"y":2.83,"s":"F","c":"o"},{"x":2.6,"y":2.58,"s":"F","c":"o"},
{"x":4.07,"y":3.5,"s":"F","c":"c"},{"x":3.86,"y":3.89,"s":"F","c":"c"},{"x":3.35,"y":4.05,"s":"F","c":"c"},{"x":2.84,"y":3.89,"s":"F","c":"c"},{"x":2.63,"y":3.5,"s":"F","c":"c"},{"x":2.84,"y":3.11,"s":"F","c":"c"},{"x":3.35,"y":2.95,"s":"F","c":"c"},{"x":3.86,"y":3.11,"s":"F","c":"c"},
{"x":9.65,"y":9.4,"s":"F","c":"e"},{"x":9.57,"y":9.48,"s":"F","c":"e"},{"x":9.49,"y":9.4,"s":"F","c":"e"},{"x":9.57,"y":9.32,"s":"F","c":"e"},
{"x":2.4,"y":2.55,"s":"K","c":"o"},{"x":2.4,"y":4.4,"s":"K","c":"o"},{"x":2.85,"y":4.65,"s":"K","c":"o"},{"x":4.08,"y":4.93,"s":"K","c":"o"},{"x":4.7,"y":5.2,"s":"K","c":"o"},{"x":5.3,"y":5.62,"s":"K","c":"o"},{"x":5.9,"y":6.3,"s":"K","c":"o"},{"x":6.5,"y":7.0,"s":"K","c":"o"},{"x":7.12,"y":7.55,"s":"K","c":"o"},{"x":7.73,"y":8.1,"s":"K","c":"o"},{"x":8.35,"y":8.52,"s":"K","c":"o"},{"x":8.95,"y":8.92,"s":"K","c":"o"},{"x":9.44,"y":8.97,"s":"K","c":"o"},{"x":9.62,"y":8.46,"s":"K","c":"o"},{"x":9.32,"y":7.33,"s":"K","c":"o"},{"x":9.0,"y":6.9,"s":"K","c":"o"},{"x":8.55,"y":5.95,"s":"K","c":"o"},{"x":7.78,"y":5.38,"s":"K","c":"o"},{"x":6.86,"y":4.82,"s":"K","c":"o"},{"x":5.95,"y":4.27,"s":"K","c":"o"},{"x":5.04,"y":3.73,"s":"K","c":"o"},{"x":4.12,"y":3.19,"s":"K","c":"o"},{"x":3.2,"y":2.79,"s":"K","c":"o"},{"x":2.6,"y":2.54,"s":"K","c":"o"},
{"x":4.2,"y":3.5,"s":"K","c":"c"},{"x":3.95,"y":3.98,"s":"K","c":"c"},{"x":3.35,"y":4.15,"s":"K","c":"c"},{"x":2.75,"y":3.98,"s":"K","c":"c"},{"x":2.5,"y":3.5,"s":"K","c":"c"},{"x":2.75,"y":3.02,"s":"K","c":"c"},{"x":3.35,"y":2.85,"s":"K","c":"c"},{"x":3.95,"y":3.02,"s":"K","c":"c"}]
},
"config":{
"font":"DejaVu Sans",
"view":{"stroke":"#000000","strokeWidth":1},
"axis":{"domain":false,"grid":false,"ticks":true,"tickSize":3.5,"tickColor":"#000000","tickWidth":0.8,"labelFontSize":13,"labelColor":"#000000","labelAngle":-45,"labelAlign":"center","labelBaseline":"middle","labelFlush":false,"labelOverlap":false,"titleFontSize":14,"titleFontWeight":"normal","titleColor":"#000000"},
"axisX":{"labelPadding":12.5,"titleY":37,"titleBaseline":"top"},
"axisY":{"labelPadding":14.5,"titleX":-39,"titleBaseline":"middle"},
"legend":{"orient":"none","legendX":287,"legendY":124,"symbolType":"stroke","symbolSize":3025,"symbolStrokeWidth":1.5,"labelFontSize":24,"labelColor":"#000000","labelOffset":21,"labelLimit":400,"rowPadding":-20,"padding":0}
}
}
